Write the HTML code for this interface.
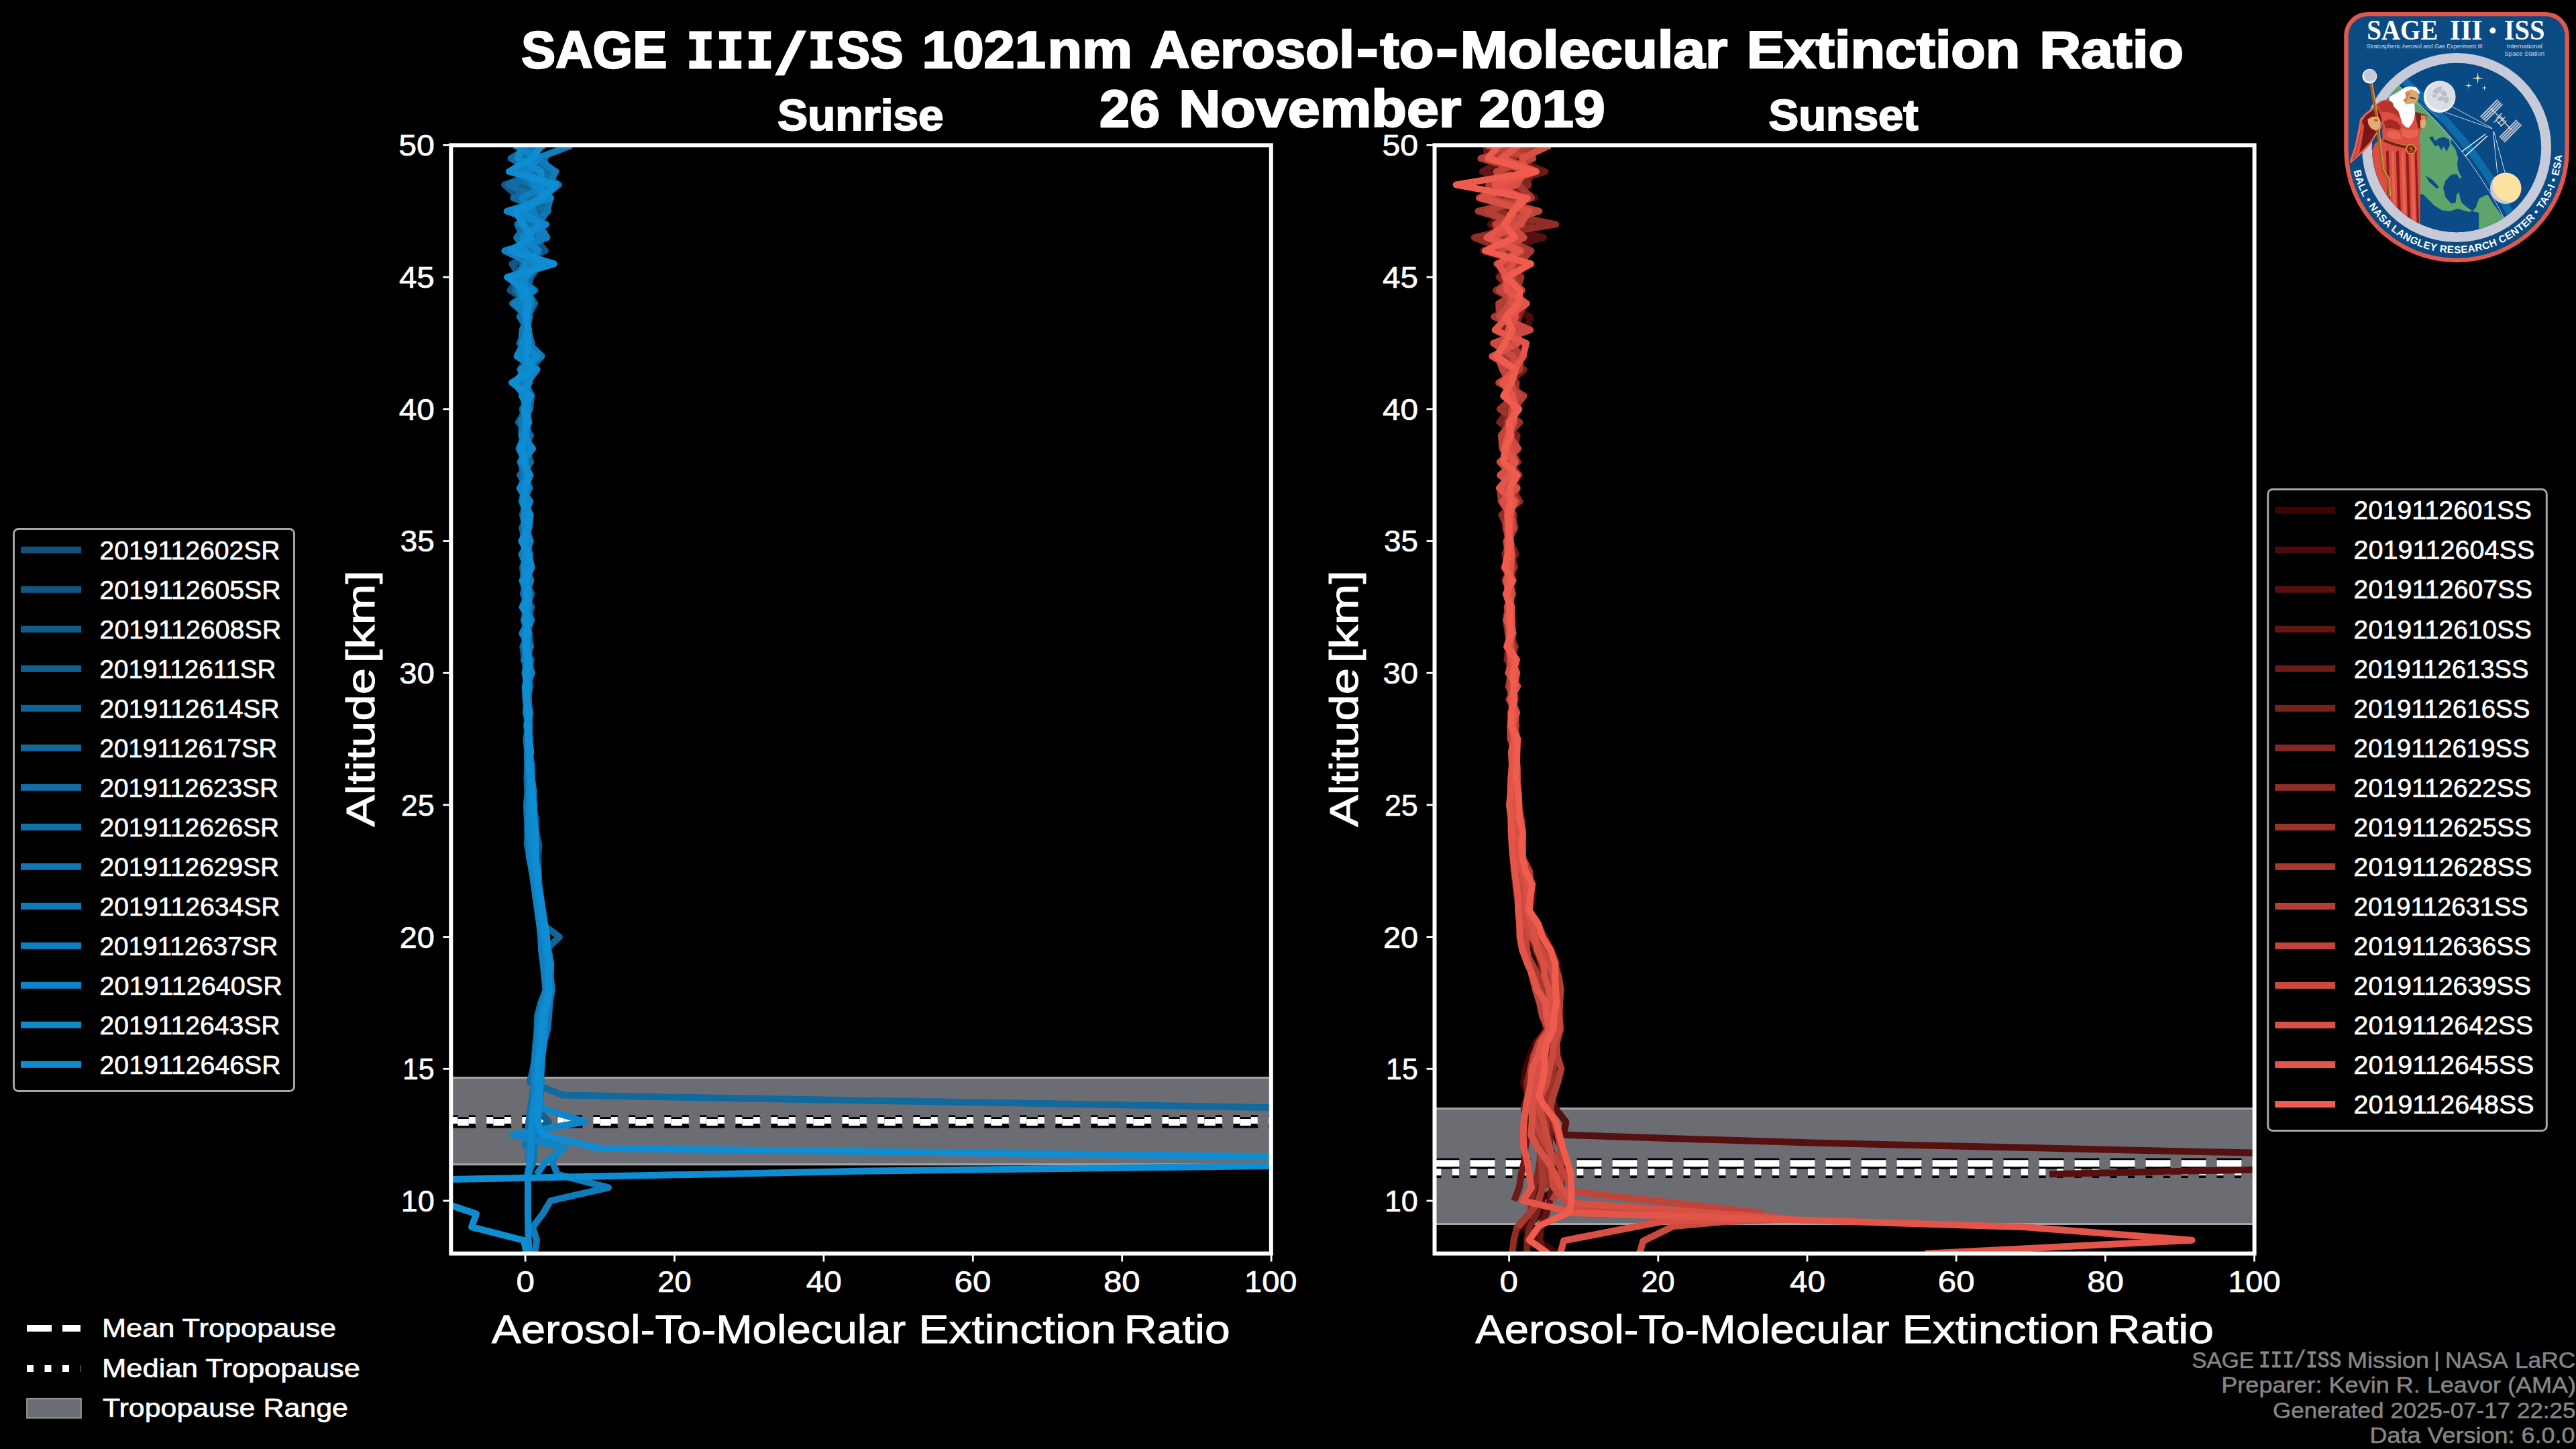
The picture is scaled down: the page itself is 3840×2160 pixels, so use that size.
<!DOCTYPE html>
<html lang="en"><head><meta charset="utf-8"><title>SAGE III/ISS 1021nm Aerosol-to-Molecular Extinction Ratio</title>
<style>
html,body{margin:0;padding:0;background:#000;width:3840px;height:2160px;overflow:hidden}
svg{display:block;font-family:"Liberation Sans", sans-serif}
</style></head><body>
<svg width="3840" height="2160" viewBox="0 0 3840 2160">
<rect width="3840" height="2160" fill="#000"/>
<text x="777.1" y="101.0" font-size="77.0" font-weight="bold" fill="#fff" stroke="#fff" stroke-width="2.4" textLength="217.2" lengthAdjust="spacingAndGlyphs">SAGE</text>
<text x="1023.4" y="100.7" font-size="79.5" font-weight="bold" fill="#fff" font-family="'Liberation Mono', monospace" stroke="#fff" stroke-width="3.0" textLength="41.1" lengthAdjust="spacingAndGlyphs">I</text>
<text x="1068.1" y="100.7" font-size="79.5" font-weight="bold" fill="#fff" font-family="'Liberation Mono', monospace" stroke="#fff" stroke-width="3.0" textLength="41.1" lengthAdjust="spacingAndGlyphs">I</text>
<text x="1112.1" y="100.7" font-size="79.5" font-weight="bold" fill="#fff" font-family="'Liberation Mono', monospace" stroke="#fff" stroke-width="3.0" textLength="41.1" lengthAdjust="spacingAndGlyphs">I</text>
<polygon points="1155,112.5 1169.2,112.5 1202.2,45.4 1188,45.4" fill="#fff"/>
<text x="1204.4" y="100.7" font-size="79.5" font-weight="bold" fill="#fff" font-family="'Liberation Mono', monospace" stroke="#fff" stroke-width="3.0" textLength="40.4" lengthAdjust="spacingAndGlyphs">I</text>
<text x="1247.5" y="101.0" font-size="77.0" font-weight="bold" fill="#fff" stroke="#fff" stroke-width="2.4" textLength="99.1" lengthAdjust="spacingAndGlyphs">SS</text>
<text x="1374.4" y="101.0" font-size="77.0" font-weight="bold" fill="#fff" stroke="#fff" stroke-width="2.4" textLength="184.4" lengthAdjust="spacingAndGlyphs">1021</text>
<text x="1561.4" y="101.0" font-size="77.0" font-weight="bold" fill="#fff" stroke="#fff" stroke-width="2.4" textLength="126.5" lengthAdjust="spacingAndGlyphs">nm</text>
<text x="1714.4" y="101.0" font-size="77.0" font-weight="bold" fill="#fff" stroke="#fff" stroke-width="2.4" textLength="304.7" lengthAdjust="spacingAndGlyphs">Aerosol</text>
<rect x="2024.1" y="72.7" width="28.3" height="12.5" fill="#fff"/>
<text x="2057.5" y="101.0" font-size="77.0" font-weight="bold" fill="#fff" stroke="#fff" stroke-width="2.4" textLength="80.0" lengthAdjust="spacingAndGlyphs">to</text>
<rect x="2142.6" y="72.7" width="28.6" height="12.5" fill="#fff"/>
<text x="2176.8" y="101.0" font-size="77.0" font-weight="bold" fill="#fff" stroke="#fff" stroke-width="2.4" textLength="398.5" lengthAdjust="spacingAndGlyphs">Molecular</text>
<text x="2603.7" y="101.0" font-size="77.0" font-weight="bold" fill="#fff" stroke="#fff" stroke-width="2.4" textLength="407.7" lengthAdjust="spacingAndGlyphs">Extinction</text>
<text x="3040.3" y="101.0" font-size="77.0" font-weight="bold" fill="#fff" stroke="#fff" stroke-width="2.4" textLength="214.7" lengthAdjust="spacingAndGlyphs">Ratio</text>
<text x="1639.0" y="188.7" font-size="77.0" font-weight="bold" fill="#fff" stroke="#fff" stroke-width="2.4" textLength="90.0" lengthAdjust="spacingAndGlyphs">26</text>
<text x="1757.2" y="188.7" font-size="77.0" font-weight="bold" fill="#fff" stroke="#fff" stroke-width="2.4" textLength="421.1" lengthAdjust="spacingAndGlyphs">November</text>
<text x="2204.6" y="188.7" font-size="77.0" font-weight="bold" fill="#fff" stroke="#fff" stroke-width="2.4" textLength="188.2" lengthAdjust="spacingAndGlyphs">2019</text>
<text x="1158.9" y="194.2" font-size="64.8" font-weight="bold" fill="#fff" stroke="#fff" stroke-width="2.0" textLength="247.8" lengthAdjust="spacingAndGlyphs">Sunrise</text>
<text x="2636.5" y="194.2" font-size="64.8" font-weight="bold" fill="#fff" stroke="#fff" stroke-width="2.0" textLength="223.1" lengthAdjust="spacingAndGlyphs">Sunset</text>
<clipPath id="cl"><rect x="672.3" y="216.4" width="1222.5" height="1652.2"/></clipPath>
<g clip-path="url(#cl)">
<rect x="672.3" y="1605.0" width="1222.5" height="132.2" fill="#6b6d73"/>
<rect x="672.3" y="1605.0" width="1222.5" height="3" fill="#a3a3a5"/>
<rect x="672.3" y="1734.2" width="1222.5" height="3" fill="#a3a3a5"/>
<line x1="672.3" x2="1894.8" y1="1673.0" y2="1673.0" stroke="#000" stroke-width="16.3" stroke-dasharray="37 16" transform="translate(0,0.35)"/>
<line x1="672.3" x2="1894.8" y1="1673.0" y2="1673.0" stroke="#fff" stroke-width="10" stroke-dasharray="37 16"/>
<line x1="672.3" x2="1894.8" y1="1670.0" y2="1670.0" stroke="#000" stroke-width="16.6" stroke-dasharray="10 16.5" transform="translate(0,0.5)"/>
<line x1="672.3" x2="1894.8" y1="1670.0" y2="1670.0" stroke="#fff" stroke-width="10" stroke-dasharray="10 16.5"/>
<polyline points="795.8,216.4 762.4,236.1 796.1,255.7 756.4,275.4 789.5,295.1 770.2,314.8 798.9,334.4 771.0,354.1 795.5,373.8 792.9,393.4 775.0,413.1 760.4,432.8 792.4,452.4 787.2,472.1 786.2,491.8 774.1,511.5 789.9,531.1 779.6,550.8 780.2,570.5 793.0,590.1 778.1,609.8 785.4,629.5 787.7,649.1 777.0,668.8 782.6,688.5 783.2,708.2 783.1,727.8 779.2,747.5 786.2,767.2 788.5,786.8 777.5,806.5 790.3,826.2 784.0,845.8 782.9,865.5 792.7,885.2 784.6,904.9 780.4,924.5 787.4,944.2 786.9,963.9 784.4,983.5 788.6,1003.2 785.3,1022.9 787.8,1042.5 788.3,1062.2 784.9,1081.9 787.4,1101.6 786.5,1121.2 788.2,1140.9 788.1,1160.6 790.8,1180.2 792.1,1199.9 793.5,1219.6 792.9,1239.2 790.3,1258.9 792.7,1278.6 795.7,1298.3 797.1,1317.9 800.0,1337.6 801.7,1357.3 804.2,1376.9 805.6,1396.6 807.6,1416.3 810.8,1435.9 813.3,1455.6 816.0,1475.3 809.3,1495.0 803.6,1514.6 801.1,1534.3 798.5,1554.0 796.8,1573.6 795.4,1593.3 796.6,1613.0 795.3,1632.6 796.6,1652.3 794.4,1672.0 792.5,1691.7" fill="none" stroke="#12527c" stroke-width="10" stroke-opacity="1.0" stroke-linejoin="round" stroke-linecap="butt"/>
<polyline points="794.1,216.4 764.1,236.1 810.9,255.7 752.0,275.4 774.7,295.1 800.9,314.8 777.5,334.4 795.2,354.1 812.8,373.8 763.4,393.4 775.6,413.1 788.3,432.8 788.6,452.4 781.8,472.1 784.6,491.8 792.7,511.5 788.8,531.1 775.3,550.8 787.0,570.5 784.7,590.1 779.3,609.8 787.4,629.5 778.1,649.1 789.7,668.8 780.1,688.5 782.3,708.2 780.4,727.8 784.3,747.5 778.7,767.2 784.1,786.8 787.8,806.5 777.6,826.2 791.3,845.8 778.1,865.5 790.7,885.2 781.4,904.9 789.1,924.5 784.5,944.2 780.5,963.9 791.8,983.5 788.8,1003.2 784.9,1022.9 786.7,1042.5 787.5,1062.2 786.5,1081.9 789.8,1101.6 787.3,1121.2 789.7,1140.9 790.4,1160.6 792.8,1180.2 794.2,1199.9 798.8,1219.6 798.8,1239.2 803.4,1258.9 802.1,1278.6 802.6,1298.3 803.5,1317.9 806.1,1337.6 808.0,1357.3 809.6,1376.9 812.0,1396.6 814.4,1416.3 818.6,1435.9 821.0,1455.6 820.2,1475.3 817.2,1495.0 814.3,1514.6 811.6,1534.3 806.9,1554.0 806.2,1573.6 803.3,1593.3 801.3,1613.0 801.6,1632.6 798.5,1652.3 798.0,1672.0" fill="none" stroke="#125783" stroke-width="10" stroke-opacity="1.0" stroke-linejoin="round" stroke-linecap="butt"/>
<polyline points="772.8,216.4 778.4,236.1 829.1,255.7 768.0,275.4 804.8,295.1 786.5,314.8 782.3,334.4 782.8,354.1 795.2,373.8 783.3,393.4 777.5,413.1 784.1,432.8 797.4,452.4 786.1,472.1 785.6,491.8 780.6,511.5 777.5,531.1 798.1,550.8 787.5,570.5 780.5,590.1 787.0,609.8 786.1,629.5 785.3,649.1 785.0,668.8 776.7,688.5 790.7,708.2 774.7,727.8 788.9,747.5 784.4,767.2 786.4,786.8 789.5,806.5 786.7,826.2 778.9,845.8 781.5,865.5 790.8,885.2 780.8,904.9 786.9,924.5 787.9,944.2 779.2,963.9 782.0,983.5 790.2,1003.2 786.3,1022.9 786.3,1042.5 787.5,1062.2 786.5,1081.9 787.0,1101.6 789.7,1121.2 789.5,1140.9 790.9,1160.6 794.5,1180.2 793.9,1199.9 794.7,1219.6 793.0,1239.2 793.9,1258.9 794.7,1278.6 797.5,1298.3 800.3,1317.9 802.4,1337.6 805.3,1357.3 807.3,1376.9 810.4,1396.6 810.6,1416.3 815.5,1435.9 815.9,1455.6 817.5,1475.3 812.3,1495.0 808.5,1514.6 807.0,1534.3 804.9,1554.0 804.5,1573.6 803.9,1593.3 805.9,1613.0 803.8,1632.6 800.6,1652.3 799.8,1672.0 795.3,1691.7 792.5,1711.3 792.9,1731.0" fill="none" stroke="#125b89" stroke-width="10" stroke-opacity="1.0" stroke-linejoin="round" stroke-linecap="butt"/>
<polyline points="807.5,216.4 782.3,236.1 791.4,255.7 793.5,275.4 796.5,295.1 802.1,314.8 790.9,334.4 785.9,354.1 767.3,373.8 808.0,393.4 768.6,413.1 797.7,432.8 763.6,452.4 789.5,472.1 785.7,491.8 776.2,511.5 807.3,531.1 790.0,550.8 772.4,570.5 790.2,590.1 784.2,609.8 772.9,629.5 791.0,649.1 781.4,668.8 782.3,688.5 777.0,708.2 784.2,727.8 783.5,747.5 787.9,767.2 783.7,786.8 784.2,806.5 789.9,826.2 780.7,845.8 784.8,865.5 780.0,885.2 792.5,904.9 785.9,924.5 786.7,944.2 786.0,963.9 785.2,983.5 786.8,1003.2 785.7,1022.9 786.8,1042.5 787.8,1062.2 789.7,1081.9 788.1,1101.6 788.2,1121.2 788.2,1140.9 788.8,1160.6 791.5,1180.2 790.4,1199.9 791.5,1219.6 792.0,1239.2 792.2,1258.9 794.7,1278.6 797.2,1298.3 799.0,1317.9 801.7,1337.6 803.7,1357.3 805.8,1376.9 806.2,1396.6 808.9,1416.3 810.5,1435.9 814.2,1455.6 816.0,1475.3 814.2,1495.0 812.0,1514.6 809.0,1534.3 807.4,1554.0 805.4,1573.6 802.5,1593.3 800.6,1613.0 800.1,1632.6 798.6,1652.3 818.0,1672.0 791.5,1691.7 788.7,1711.3" fill="none" stroke="#116090" stroke-width="10" stroke-opacity="1.0" stroke-linejoin="round" stroke-linecap="butt"/>
<polyline points="766.1,216.4 812.5,236.1 810.8,255.7 783.6,275.4 802.7,295.1 816.4,314.8 771.2,334.4 780.0,354.1 768.6,373.8 803.3,393.4 791.5,413.1 785.3,432.8 768.1,452.4 782.1,472.1 784.8,491.8 790.7,511.5 784.2,531.1 787.8,550.8 784.8,570.5 781.5,590.1 784.7,609.8 784.7,629.5 782.2,649.1 785.2,668.8 790.4,688.5 780.7,708.2 782.1,727.8 777.6,747.5 787.7,767.2 777.9,786.8 783.3,806.5 790.0,826.2 786.0,845.8 783.5,865.5 780.0,885.2 786.9,904.9 783.8,924.5 788.3,944.2 791.1,963.9 783.1,983.5 783.7,1003.2 784.8,1022.9 788.1,1042.5 787.0,1062.2 786.0,1081.9 788.5,1101.6 787.0,1121.2 791.0,1140.9 791.1,1160.6 792.6,1180.2 792.0,1199.9 793.8,1219.6 792.7,1239.2 793.0,1258.9 794.3,1278.6 795.9,1298.3 798.4,1317.9 801.1,1337.6 802.0,1357.3 807.4,1376.9 833.9,1396.6 813.2,1416.3 816.2,1435.9 818.6,1455.6 819.6,1475.3 815.3,1495.0 811.7,1514.6 807.7,1534.3 805.0,1554.0 803.7,1573.6 803.1,1593.3 801.5,1613.0 797.8,1632.6 799.7,1652.3 796.1,1672.0 795.6,1691.7 793.0,1711.3 792.3,1731.0 786.5,1750.7" fill="none" stroke="#116497" stroke-width="10" stroke-opacity="1.0" stroke-linejoin="round" stroke-linecap="butt"/>
<polyline points="792.8,216.4 761.5,236.1 800.6,255.7 822.7,275.4 765.2,295.1 816.8,314.8 785.7,334.4 770.1,354.1 783.4,373.8 789.4,393.4 779.3,413.1 777.9,432.8 777.9,452.4 786.2,472.1 779.8,491.8 780.4,511.5 792.7,531.1 792.4,550.8 765.5,570.5 788.8,590.1 781.3,609.8 780.5,629.5 789.9,649.1 777.4,668.8 791.1,688.5 775.1,708.2 786.3,727.8 782.2,747.5 782.4,767.2 787.5,786.8 783.3,806.5 787.1,826.2 783.9,845.8 781.7,865.5 786.8,885.2 785.7,904.9 788.2,924.5 781.1,944.2 786.6,963.9 780.7,983.5 790.8,1003.2 782.7,1022.9 783.5,1042.5 787.5,1062.2 787.9,1081.9 784.2,1101.6 786.5,1121.2 786.5,1140.9 785.4,1160.6 786.5,1180.2 784.8,1199.9 785.7,1219.6 787.0,1239.2 785.7,1258.9 790.0,1278.6 792.5,1298.3 796.3,1317.9 798.4,1337.6 802.5,1357.3 804.4,1376.9 808.5,1396.6 810.7,1416.3 812.5,1435.9 812.7,1455.6 814.3,1475.3 806.1,1495.0 800.8,1514.6 800.5,1534.3 799.1,1554.0 798.2,1573.6 794.5,1593.3 789.9,1613.0 839.0,1632.6 1966.0,1652.3" fill="none" stroke="#11699d" stroke-width="10" stroke-opacity="1.0" stroke-linejoin="round" stroke-linecap="butt"/>
<polyline points="811.9,216.4 767.9,236.1 822.1,255.7 758.1,275.4 799.7,295.1 767.5,314.8 785.3,334.4 812.5,354.1 784.9,373.8 780.4,393.4 771.1,413.1 768.3,432.8 790.5,452.4 786.7,472.1 784.9,491.8 786.0,511.5 777.7,531.1 789.2,550.8 783.1,570.5 792.0,590.1 789.8,609.8 778.5,629.5 779.6,649.1 784.0,668.8 778.6,688.5 780.3,708.2 784.4,727.8 780.1,747.5 787.4,767.2 783.2,786.8 785.8,806.5 783.9,826.2 783.0,845.8 783.3,865.5 786.1,885.2 783.9,904.9 786.9,924.5 785.0,944.2 781.3,963.9 788.1,983.5 782.2,1003.2 786.5,1022.9 786.6,1042.5 783.7,1062.2 788.4,1081.9 787.2,1101.6 786.8,1121.2 786.8,1140.9 787.3,1160.6 787.6,1180.2 789.4,1199.9 789.9,1219.6 791.6,1239.2 791.9,1258.9 796.1,1278.6 798.5,1298.3 800.8,1317.9 803.2,1337.6 805.4,1357.3 805.6,1376.9 808.1,1396.6 808.7,1416.3 810.7,1435.9 812.9,1455.6 814.7,1475.3 810.2,1495.0 805.7,1514.6 803.1,1534.3 801.2,1554.0 798.0,1573.6 798.1,1593.3 796.5,1613.0 793.6,1632.6 791.2,1652.3 788.1,1672.0 789.3,1691.7 787.1,1711.3 788.0,1731.0" fill="none" stroke="#116da4" stroke-width="10" stroke-opacity="1.0" stroke-linejoin="round" stroke-linecap="butt"/>
<polyline points="807.3,216.4 773.0,236.1 800.7,255.7 832.9,275.4 807.8,295.1 774.9,314.8 785.8,334.4 771.1,354.1 782.2,373.8 804.1,393.4 779.3,413.1 782.2,432.8 794.9,452.4 774.7,472.1 787.4,491.8 792.3,511.5 789.3,531.1 791.4,550.8 781.9,570.5 781.2,590.1 786.6,609.8 778.0,629.5 777.3,649.1 789.7,668.8 779.8,688.5 784.0,708.2 775.4,727.8 785.4,747.5 783.0,767.2 782.8,786.8 778.8,806.5 787.5,826.2 788.5,845.8 785.0,865.5 782.7,885.2 786.2,904.9 787.7,924.5 778.5,944.2 789.1,963.9 787.6,983.5 787.5,1003.2 789.7,1022.9 787.0,1042.5 786.4,1062.2 787.3,1081.9 788.0,1101.6 786.3,1121.2 787.4,1140.9 787.7,1160.6 788.2,1180.2 785.7,1199.9 786.6,1219.6 786.4,1239.2 787.7,1258.9 788.9,1278.6 793.4,1298.3 795.6,1317.9 799.1,1337.6 801.8,1357.3 805.0,1376.9 807.1,1396.6 807.4,1416.3 810.2,1435.9 812.7,1455.6 814.3,1475.3 809.4,1495.0 806.7,1514.6 803.5,1534.3 801.7,1554.0 798.5,1573.6 797.7,1593.3 794.9,1613.0 794.4,1632.6 790.5,1652.3 788.6,1672.0 785.9,1691.7 782.8,1711.3" fill="none" stroke="#1072ab" stroke-width="10" stroke-opacity="1.0" stroke-linejoin="round" stroke-linecap="butt"/>
<polyline points="781.3,216.4 805.6,236.1 771.2,255.7 792.5,275.4 820.1,295.1 815.7,314.8 801.8,334.4 773.9,354.1 785.7,373.8 813.8,393.4 769.0,413.1 773.8,432.8 791.1,452.4 788.6,472.1 778.7,491.8 776.9,511.5 781.8,531.1 796.1,550.8 773.3,570.5 785.6,590.1 785.5,609.8 786.1,629.5 779.8,649.1 785.9,668.8 775.5,688.5 782.8,708.2 779.6,727.8 789.4,747.5 782.5,767.2 782.3,786.8 784.8,806.5 784.8,826.2 787.7,845.8 778.8,865.5 784.5,885.2 785.8,904.9 792.3,924.5 784.4,944.2 783.6,963.9 788.1,983.5 791.4,1003.2 783.8,1022.9 786.9,1042.5 790.2,1062.2 788.1,1081.9 789.4,1101.6 788.7,1121.2 792.7,1140.9 792.7,1160.6 793.8,1180.2 796.4,1199.9 795.6,1219.6 799.3,1239.2 797.8,1258.9 798.1,1278.6 799.2,1298.3 800.7,1317.9 803.4,1337.6 807.7,1357.3 810.5,1376.9 814.4,1396.6 817.5,1416.3 821.4,1435.9 820.7,1455.6 822.8,1475.3 819.4,1495.0 818.1,1514.6 816.2,1534.3 810.8,1554.0 806.9,1573.6 805.8,1593.3 805.3,1613.0 805.8,1632.6 804.9,1652.3 801.5,1672.0 801.5,1691.7 796.5,1711.3 795.1,1731.0 787.8,1750.7" fill="none" stroke="#1076b2" stroke-width="10" stroke-opacity="1.0" stroke-linejoin="round" stroke-linecap="butt"/>
<polyline points="768.4,216.4 801.3,236.1 827.5,255.7 819.9,275.4 801.1,295.1 790.2,314.8 773.3,334.4 811.2,354.1 772.4,373.8 791.9,393.4 775.1,413.1 785.5,432.8 778.8,452.4 786.4,472.1 778.8,491.8 787.7,511.5 807.3,531.1 775.9,550.8 781.3,570.5 788.1,590.1 786.2,609.8 776.6,629.5 784.9,649.1 787.7,668.8 780.6,688.5 782.3,708.2 789.3,727.8 778.5,747.5 785.4,767.2 782.8,786.8 790.5,806.5 777.6,826.2 786.0,845.8 784.5,865.5 788.4,885.2 786.2,904.9 788.7,924.5 778.5,944.2 789.9,963.9 783.8,983.5 784.8,1003.2 788.8,1022.9 784.6,1042.5 784.7,1062.2 788.5,1081.9 786.9,1101.6 789.6,1121.2 791.8,1140.9 792.8,1160.6 795.6,1180.2 794.6,1199.9 794.4,1219.6 795.7,1239.2 796.0,1258.9 796.7,1278.6 799.5,1298.3 800.4,1317.9 802.3,1337.6 805.7,1357.3 807.5,1376.9 810.9,1396.6 814.1,1416.3 817.9,1435.9 818.5,1455.6 819.6,1475.3 814.7,1495.0 810.2,1514.6 808.3,1534.3 806.1,1554.0 807.0,1573.6 805.9,1593.3 806.8,1613.0 804.3,1632.6 805.5,1652.3 800.9,1672.0 809.0,1691.7 837.0,1711.3 823.0,1731.0 831.0,1750.7 907.0,1770.3 820.7,1790.0 809.0,1809.7 794.0,1829.3 800.0,1849.0 797.0,1868.7" fill="none" stroke="#107bb8" stroke-width="10" stroke-opacity="1.0" stroke-linejoin="round" stroke-linecap="butt"/>
<polyline points="852.0,216.4 800.9,236.1 778.9,255.7 815.6,275.4 778.0,295.1 794.7,314.8 803.6,334.4 815.3,354.1 752.4,373.8 793.1,393.4 771.7,413.1 795.3,432.8 766.7,452.4 786.1,472.1 786.7,491.8 779.0,511.5 783.1,531.1 785.3,550.8 766.4,570.5 781.9,590.1 785.6,609.8 785.4,629.5 781.8,649.1 773.6,668.8 783.9,688.5 787.3,708.2 783.8,727.8 782.4,747.5 781.8,767.2 787.8,786.8 781.8,806.5 782.0,826.2 784.3,845.8 791.3,865.5 783.7,885.2 788.7,904.9 782.0,924.5 788.9,944.2 782.1,963.9 786.3,983.5 793.0,1003.2 785.0,1022.9 784.4,1042.5 786.8,1062.2 787.4,1081.9 788.6,1101.6 786.6,1121.2 786.8,1140.9 789.1,1160.6 789.5,1180.2 790.2,1199.9 791.9,1219.6 790.4,1239.2 790.5,1258.9 789.6,1278.6 793.7,1298.3 796.9,1317.9 798.6,1337.6 801.2,1357.3 804.1,1376.9 807.2,1396.6 807.0,1416.3 809.7,1435.9 811.4,1455.6 813.6,1475.3 807.8,1495.0 803.8,1514.6 801.7,1534.3 800.6,1554.0 798.2,1573.6 795.9,1593.3 796.6,1613.0 796.6,1632.6 794.9,1652.3 795.1,1672.0 792.9,1691.7 788.0,1711.3 787.8,1731.0" fill="none" stroke="#107fbf" stroke-width="10" stroke-opacity="1.0" stroke-linejoin="round" stroke-linecap="butt"/>
<polyline points="770.3,216.4 801.8,236.1 787.2,255.7 796.3,275.4 821.2,295.1 755.7,314.8 814.2,334.4 778.9,354.1 802.8,373.8 784.8,393.4 770.2,413.1 789.3,432.8 791.0,452.4 782.5,472.1 788.3,491.8 780.5,511.5 770.6,531.1 800.6,550.8 785.3,570.5 783.0,590.1 784.2,609.8 788.5,629.5 778.2,649.1 779.9,668.8 782.5,688.5 788.5,708.2 774.8,727.8 790.3,747.5 780.7,767.2 782.1,786.8 790.7,806.5 782.5,826.2 780.9,845.8 786.1,865.5 789.0,885.2 787.7,904.9 782.1,924.5 787.2,944.2 786.8,963.9 782.8,983.5 788.3,1003.2 786.0,1022.9 785.7,1042.5 786.7,1062.2 787.6,1081.9 787.6,1101.6 787.5,1121.2 788.6,1140.9 790.1,1160.6 788.8,1180.2 789.0,1199.9 788.3,1219.6 787.4,1239.2 790.1,1258.9 790.7,1278.6 796.5,1298.3 798.8,1317.9 802.3,1337.6 804.1,1357.3 805.5,1376.9 809.5,1396.6 813.3,1416.3 816.0,1435.9 816.9,1455.6 817.3,1475.3 812.7,1495.0 807.7,1514.6 805.4,1534.3 805.5,1554.0 802.1,1573.6 803.0,1593.3 799.0,1613.0 797.6,1632.6 809.0,1652.3 872.0,1672.0 763.7,1691.7 841.7,1711.3 813.7,1731.0 800.0,1750.7" fill="none" stroke="#0f84c6" stroke-width="10" stroke-opacity="1.0" stroke-linejoin="round" stroke-linecap="butt"/>
<polyline points="780.4,216.4 771.4,236.1 806.5,255.7 807.2,275.4 808.7,295.1 778.9,314.8 805.4,334.4 779.8,354.1 781.7,373.8 801.8,393.4 784.9,413.1 774.3,432.8 783.4,452.4 785.0,472.1 786.3,491.8 779.1,511.5 800.6,531.1 778.2,550.8 789.0,570.5 777.9,590.1 787.7,609.8 784.7,629.5 780.0,649.1 794.0,668.8 778.2,688.5 790.0,708.2 783.4,727.8 779.6,747.5 784.1,767.2 786.4,786.8 784.3,806.5 785.0,826.2 784.0,845.8 779.7,865.5 787.6,885.2 778.6,904.9 790.0,924.5 782.5,944.2 784.3,963.9 786.2,983.5 787.5,1003.2 782.9,1022.9 785.2,1042.5 787.3,1062.2 786.0,1081.9 788.6,1101.6 791.3,1121.2 788.1,1140.9 791.2,1160.6 788.9,1180.2 790.9,1199.9 789.9,1219.6 791.4,1239.2 794.4,1258.9 797.8,1278.6 799.1,1298.3 801.2,1317.9 803.1,1337.6 805.9,1357.3 807.8,1376.9 811.6,1396.6 814.1,1416.3 818.6,1435.9 817.5,1455.6 819.6,1475.3 816.4,1495.0 812.3,1514.6 811.4,1534.3 811.0,1554.0 808.4,1573.6 807.0,1593.3 805.7,1613.0 799.6,1632.6 794.5,1652.3 792.9,1672.0 791.8,1691.7 792.1,1711.3 790.3,1731.0 786.5,1750.7 787.0,1770.3 786.9,1790.0 786.9,1809.7 787.3,1829.3 787.8,1849.0 788.4,1868.7" fill="none" stroke="#0f88cc" stroke-width="10" stroke-opacity="1.0" stroke-linejoin="round" stroke-linecap="butt"/>
<polyline points="807.8,216.4 792.4,236.1 758.8,255.7 829.0,275.4 807.8,295.1 768.1,314.8 780.0,334.4 791.8,354.1 761.9,373.8 825.9,393.4 756.2,413.1 784.1,432.8 787.4,452.4 784.6,472.1 787.1,491.8 787.9,511.5 784.2,531.1 795.0,550.8 763.1,570.5 790.6,590.1 781.0,609.8 786.0,629.5 783.9,649.1 777.0,668.8 780.7,688.5 787.7,708.2 782.9,727.8 780.6,747.5 790.6,767.2 788.5,786.8 777.4,806.5 788.3,826.2 792.4,845.8 783.6,865.5 784.8,885.2 784.3,904.9 784.0,924.5 785.5,944.2 784.0,963.9 788.9,983.5 784.0,1003.2 786.0,1022.9 784.9,1042.5 788.2,1062.2 786.6,1081.9 788.6,1101.6 790.0,1121.2 789.7,1140.9 791.5,1160.6 793.1,1180.2 794.7,1199.9 796.1,1219.6 797.0,1239.2 799.2,1258.9 798.0,1278.6 801.7,1298.3 802.5,1317.9 805.9,1337.6 809.0,1357.3 812.0,1376.9 815.1,1396.6 816.2,1416.3 819.3,1435.9 817.9,1455.6 818.3,1475.3 815.4,1495.0 809.6,1514.6 808.6,1534.3 806.3,1554.0 803.6,1573.6 801.3,1593.3 803.0,1613.0 804.9,1632.6 802.0,1652.3 800.5,1672.0 809.0,1691.8 893.0,1711.6 2443.0,1731.0 1280.0,1745.8 95.0,1769.8 650.0,1789.5 710.0,1809.4 703.0,1829.2 781.0,1849.0 785.0,1868.6" fill="none" stroke="#0f8dd3" stroke-width="10" stroke-opacity="1.0" stroke-linejoin="round" stroke-linecap="butt"/>
</g>
<rect x="672.3" y="216.4" width="1222.5" height="1652.2" fill="none" stroke="#fff" stroke-width="6"/>
<rect x="660.3" y="1788.6" width="10" height="2.8" fill="#fff"/>
<text x="597.7" y="1805.9" font-size="44.8" font-weight="normal" fill="#fff" stroke="#fff" stroke-width="0.7" textLength="49.9" lengthAdjust="spacingAndGlyphs">10</text>
<rect x="660.3" y="1591.9" width="10" height="2.8" fill="#fff"/>
<text x="599.9" y="1609.2" font-size="44.8" font-weight="normal" fill="#fff" stroke="#fff" stroke-width="0.7" textLength="47.7" lengthAdjust="spacingAndGlyphs">15</text>
<rect x="660.3" y="1395.2" width="10" height="2.8" fill="#fff"/>
<text x="595.8" y="1412.5" font-size="44.8" font-weight="normal" fill="#fff" stroke="#fff" stroke-width="0.7" textLength="52.0" lengthAdjust="spacingAndGlyphs">20</text>
<rect x="660.3" y="1198.5" width="10" height="2.8" fill="#fff"/>
<text x="597.7" y="1215.8" font-size="44.8" font-weight="normal" fill="#fff" stroke="#fff" stroke-width="0.7" textLength="49.9" lengthAdjust="spacingAndGlyphs">25</text>
<rect x="660.3" y="1001.8" width="10" height="2.8" fill="#fff"/>
<text x="595.2" y="1019.1" font-size="44.8" font-weight="normal" fill="#fff" stroke="#fff" stroke-width="0.7" textLength="52.5" lengthAdjust="spacingAndGlyphs">30</text>
<rect x="660.3" y="805.1" width="10" height="2.8" fill="#fff"/>
<text x="596.8" y="822.4" font-size="44.8" font-weight="normal" fill="#fff" stroke="#fff" stroke-width="0.7" textLength="50.9" lengthAdjust="spacingAndGlyphs">35</text>
<rect x="660.3" y="608.4" width="10" height="2.8" fill="#fff"/>
<text x="594.8" y="625.7" font-size="44.8" font-weight="normal" fill="#fff" stroke="#fff" stroke-width="0.7" textLength="53.0" lengthAdjust="spacingAndGlyphs">40</text>
<rect x="660.3" y="411.7" width="10" height="2.8" fill="#fff"/>
<text x="594.9" y="429.0" font-size="44.8" font-weight="normal" fill="#fff" stroke="#fff" stroke-width="0.7" textLength="52.9" lengthAdjust="spacingAndGlyphs">45</text>
<rect x="660.3" y="215.0" width="10" height="2.8" fill="#fff"/>
<text x="594.2" y="232.3" font-size="44.8" font-weight="normal" fill="#fff" stroke="#fff" stroke-width="0.7" textLength="53.6" lengthAdjust="spacingAndGlyphs">50</text>
<rect x="781.7" y="1870.6" width="2.8" height="10" fill="#fff"/>
<text x="769.4" y="1926.4" font-size="44.8" font-weight="normal" fill="#fff" stroke="#fff" stroke-width="0.7" textLength="27.4" lengthAdjust="spacingAndGlyphs">0</text>
<rect x="1004.1" y="1870.6" width="2.8" height="10" fill="#fff"/>
<text x="980.3" y="1926.4" font-size="44.8" font-weight="normal" fill="#fff" stroke="#fff" stroke-width="0.7" textLength="50.2" lengthAdjust="spacingAndGlyphs">20</text>
<rect x="1226.5" y="1870.6" width="2.8" height="10" fill="#fff"/>
<text x="1201.8" y="1926.4" font-size="44.8" font-weight="normal" fill="#fff" stroke="#fff" stroke-width="0.7" textLength="53.0" lengthAdjust="spacingAndGlyphs">40</text>
<rect x="1448.9" y="1870.6" width="2.8" height="10" fill="#fff"/>
<text x="1422.6" y="1926.4" font-size="44.8" font-weight="normal" fill="#fff" stroke="#fff" stroke-width="0.7" textLength="54.8" lengthAdjust="spacingAndGlyphs">60</text>
<rect x="1671.3" y="1870.6" width="2.8" height="10" fill="#fff"/>
<text x="1645.0" y="1926.4" font-size="44.8" font-weight="normal" fill="#fff" stroke="#fff" stroke-width="0.7" textLength="54.7" lengthAdjust="spacingAndGlyphs">80</text>
<rect x="1893.7" y="1870.6" width="2.8" height="10" fill="#fff"/>
<text x="1855.0" y="1926.4" font-size="44.8" font-weight="normal" fill="#fff" stroke="#fff" stroke-width="0.7" textLength="78.5" lengthAdjust="spacingAndGlyphs">100</text>
<text x="733.1" y="2001.8" font-size="60" font-weight="normal" fill="#fff" stroke="#fff" stroke-width="0.9" textLength="617.3" lengthAdjust="spacingAndGlyphs">Aerosol-To-Molecular</text>
<text x="1369.3" y="2001.8" font-size="60" font-weight="normal" fill="#fff" stroke="#fff" stroke-width="0.9" textLength="294.5" lengthAdjust="spacingAndGlyphs">Extinction</text>
<text x="1675.4" y="2001.8" font-size="60" font-weight="normal" fill="#fff" stroke="#fff" stroke-width="0.9" textLength="158.5" lengthAdjust="spacingAndGlyphs">Ratio</text>
<text transform="translate(558.0,1233.0) rotate(-90)" x="0.5" y="0" font-size="60" font-weight="normal" fill="#fff" stroke="#fff" stroke-width="0.9" textLength="236.6" lengthAdjust="spacingAndGlyphs">Altitude</text>
<text transform="translate(558.0,1233.0) rotate(-90)" x="244.6" y="0" font-size="60" font-weight="normal" fill="#fff" stroke="#fff" stroke-width="0.9" textLength="138.3" lengthAdjust="spacingAndGlyphs">[km]</text>
<clipPath id="cr"><rect x="2138.5" y="216.4" width="1222.1" height="1652.2"/></clipPath>
<g clip-path="url(#cr)">
<rect x="2138.5" y="1651.0" width="1222.1" height="175.0" fill="#6b6d73"/>
<rect x="2138.5" y="1651.0" width="1222.1" height="3" fill="#a3a3a5"/>
<rect x="2138.5" y="1823.0" width="1222.1" height="3" fill="#a3a3a5"/>
<line x1="2138.5" x2="3360.6" y1="1734.3" y2="1734.3" stroke="#000" stroke-width="16.3" stroke-dasharray="37 16" transform="translate(0,0.35)"/>
<line x1="2138.5" x2="3360.6" y1="1734.3" y2="1734.3" stroke="#fff" stroke-width="10" stroke-dasharray="37 16"/>
<line x1="2138.5" x2="3360.6" y1="1747.2" y2="1747.2" stroke="#000" stroke-width="16.6" stroke-dasharray="10 16.5" transform="translate(0,0.5)"/>
<line x1="2138.5" x2="3360.6" y1="1747.2" y2="1747.2" stroke="#fff" stroke-width="10" stroke-dasharray="10 16.5"/>
<polyline points="2252.2,216.4 2282.6,236.1 2272.5,255.7 2236.1,275.4 2252.8,295.1 2262.6,314.8 2230.7,334.4 2218.1,354.1 2264.8,373.8 2241.1,393.4 2233.5,413.1 2255.8,432.8 2255.8,452.4 2243.1,472.1 2243.9,491.8 2262.3,511.5 2260.9,531.1 2244.2,550.8 2246.6,570.5 2258.6,590.1 2257.5,609.8 2246.6,629.5 2254.4,649.1 2254.2,668.8 2245.1,688.5 2244.5,708.2 2255.6,727.8 2255.7,747.5 2253.7,767.2 2242.5,786.8 2250.0,806.5 2247.1,826.2 2244.9,845.8 2252.6,865.5 2250.7,885.2 2247.6,904.9 2255.4,924.5 2251.6,944.2 2252.5,963.9 2253.7,983.5 2258.2,1003.2 2248.3,1022.9 2257.7,1042.5 2255.5,1062.2 2250.5,1081.9 2257.3,1101.6 2253.3,1121.2 2254.8,1140.9 2252.5,1160.6 2254.9,1180.2 2256.7,1199.9 2257.8,1219.6 2261.9,1239.2 2261.2,1258.9 2262.2,1278.6 2263.7,1298.3 2267.8,1317.9 2266.0,1337.6 2265.7,1357.3 2267.4,1376.9 2269.2,1396.6 2272.8,1416.3 2276.2,1435.9 2288.6,1455.6 2293.6,1475.3 2300.4,1495.0 2302.0,1514.6 2308.0,1534.3 2289.2,1554.0 2281.0,1573.6 2274.2,1593.3 2270.8,1613.0 2276.8,1632.6 2290.2,1652.3 2306.1,1672.0 2317.8,1691.7 2327.4,1711.3 2329.3,1731.0 2326.0,1750.7 2327.7,1770.4 2297.9,1785.8 2297.9,1809.6 2269.7,1829.3 2291.2,1849.0 2322.7,1868.6" fill="none" stroke="#3d0505" stroke-width="10" stroke-opacity="1.0" stroke-linejoin="round" stroke-linecap="butt"/>
<polyline points="2253.7,216.4 2259.1,236.1 2224.1,255.7 2257.2,275.4 2288.6,295.1 2229.2,314.8 2227.4,334.4 2296.6,354.1 2244.1,373.8 2279.9,393.4 2239.6,413.1 2248.2,432.8 2239.9,452.4 2280.8,472.1 2277.3,491.8 2227.8,511.5 2247.6,531.1 2259.5,550.8 2242.7,570.5 2253.1,590.1 2250.4,609.8 2253.9,629.5 2256.1,649.1 2246.5,668.8 2255.2,688.5 2243.3,708.2 2253.7,727.8 2237.8,747.5 2247.2,767.2 2255.5,786.8 2246.9,806.5 2255.4,826.2 2250.5,845.8 2252.7,865.5 2250.0,885.2 2251.7,904.9 2249.0,924.5 2249.4,944.2 2250.6,963.9 2252.9,983.5 2251.1,1003.2 2255.0,1022.9 2255.5,1042.5 2256.6,1062.2 2255.7,1081.9 2253.7,1101.6 2259.4,1121.2 2258.2,1140.9 2259.1,1160.6 2258.8,1180.2 2259.1,1199.9 2262.4,1219.6 2267.4,1239.2 2264.9,1258.9 2265.5,1278.6 2268.2,1298.3 2266.1,1317.9 2267.6,1337.6 2267.9,1357.3 2271.8,1376.9 2278.7,1396.6 2287.4,1416.3 2297.4,1435.9 2303.6,1455.6 2311.4,1475.3 2314.2,1495.0 2317.3,1514.6 2317.6,1534.3 2308.7,1554.0 2303.5,1573.6 2299.5,1593.3 2297.8,1613.0 2297.6,1632.6 2298.0,1652.3 2305.2,1672.0 2309.1,1691.7 2310.0,1711.3 2306.8,1731.0 2302.6,1750.7 2296.4,1770.3 2291.0,1790.0 2281.7,1809.7 2268.1,1829.3" fill="none" stroke="#490b0a" stroke-width="10" stroke-opacity="1.0" stroke-linejoin="round" stroke-linecap="butt"/>
<polyline points="2240.9,216.4 2255.2,236.1 2303.8,255.7 2236.2,275.4 2225.7,295.1 2259.0,314.8 2221.8,334.4 2301.2,354.1 2210.3,373.8 2271.2,393.4 2252.7,413.1 2233.5,432.8 2270.7,452.4 2265.8,472.1 2254.2,491.8 2253.3,511.5 2260.1,531.1 2247.7,550.8 2253.5,570.5 2249.2,590.1 2259.1,609.8 2242.3,629.5 2257.6,649.1 2244.2,668.8 2244.4,688.5 2256.1,708.2 2262.1,727.8 2256.0,747.5 2244.3,767.2 2253.3,786.8 2247.5,806.5 2250.8,826.2 2250.1,845.8 2242.9,865.5 2252.8,885.2 2247.3,904.9 2250.2,924.5 2248.0,944.2 2249.4,963.9 2252.7,983.5 2260.5,1003.2 2259.3,1022.9 2252.9,1042.5 2258.8,1062.2 2255.1,1081.9 2253.9,1101.6 2260.3,1121.2 2259.5,1140.9 2259.1,1160.6 2261.7,1180.2 2262.5,1199.9 2262.8,1219.6 2264.2,1239.2 2265.9,1258.9 2266.3,1278.6 2274.4,1298.3 2284.0,1317.9 2284.5,1337.6 2280.1,1357.3 2291.5,1376.9 2303.3,1396.6 2312.8,1416.3 2320.9,1435.9 2322.3,1455.6 2324.2,1475.3 2321.6,1495.0 2316.7,1514.6 2315.0,1534.3 2305.8,1554.0 2305.8,1573.6 2309.2,1593.3 2311.5,1613.0 2311.8,1632.6 2319.4,1653.3 2334.3,1672.3 2331.0,1691.7 2520.0,1698.0 2700.0,1703.5 3357.0,1718.6 3600.0,1724.2" fill="none" stroke="#55100f" stroke-width="10" stroke-opacity="1.0" stroke-linejoin="round" stroke-linecap="butt"/>
<polyline points="3055.0,1750.3 3357.0,1743.7 3600.0,1738.4" fill="none" stroke="#55100f" stroke-width="10" stroke-opacity="1.0" stroke-linejoin="round" stroke-linecap="butt"/>
<polyline points="2287.9,216.4 2243.2,236.1 2210.0,255.7 2260.1,275.4 2268.5,295.1 2257.1,314.8 2257.9,334.4 2244.2,354.1 2253.5,373.8 2247.1,393.4 2262.6,413.1 2248.8,432.8 2259.6,452.4 2260.1,472.1 2238.8,491.8 2250.8,511.5 2272.8,531.1 2246.6,550.8 2248.0,570.5 2256.1,590.1 2246.3,609.8 2255.0,629.5 2245.9,649.1 2253.2,668.8 2239.0,688.5 2264.8,708.2 2238.9,727.8 2244.9,747.5 2251.7,767.2 2248.6,786.8 2251.1,806.5 2242.9,826.2 2253.1,845.8 2256.3,865.5 2244.3,885.2 2252.6,904.9 2249.4,924.5 2252.3,944.2 2245.8,963.9 2252.5,983.5 2259.4,1003.2 2254.1,1022.9 2259.4,1042.5 2252.0,1062.2 2257.7,1081.9 2262.1,1101.6 2254.8,1121.2 2259.4,1140.9 2261.5,1160.6 2261.1,1180.2 2261.7,1199.9 2261.7,1219.6 2263.2,1239.2 2266.7,1258.9 2270.2,1278.6 2278.1,1298.3 2282.4,1317.9 2282.9,1337.6 2278.3,1357.3 2287.5,1376.9 2295.9,1396.6 2309.3,1416.3 2315.6,1435.9 2317.2,1455.6 2313.1,1475.3 2310.0,1495.0 2309.6,1514.6 2314.2,1534.3 2305.9,1554.0 2308.6,1573.6 2316.2,1593.3 2314.0,1613.0 2308.7,1632.6 2302.0,1652.3 2304.8,1672.0 2308.8,1691.7 2310.9,1711.3 2318.9,1731.0 2316.4,1750.7 2314.4,1770.3 2310.2,1790.0 2305.1,1809.7 2296.7,1829.3 2295.4,1849.0 2301.5,1868.7" fill="none" stroke="#611613" stroke-width="10" stroke-opacity="1.0" stroke-linejoin="round" stroke-linecap="butt"/>
<polyline points="2214.9,216.4 2218.1,236.1 2302.0,255.7 2245.9,275.4 2276.7,295.1 2233.2,314.8 2269.1,334.4 2204.8,354.1 2265.6,373.8 2243.9,393.4 2255.4,413.1 2257.4,432.8 2251.8,452.4 2259.9,472.1 2252.5,491.8 2262.1,511.5 2251.8,531.1 2243.1,550.8 2249.1,570.5 2270.0,590.1 2243.2,609.8 2258.7,629.5 2249.9,649.1 2245.1,668.8 2246.7,688.5 2253.1,708.2 2250.7,727.8 2258.9,747.5 2241.5,767.2 2249.8,786.8 2250.7,806.5 2260.0,826.2 2241.6,845.8 2254.4,865.5 2247.8,885.2 2251.9,904.9 2248.8,924.5 2253.1,944.2 2256.2,963.9 2251.8,983.5 2256.0,1003.2 2255.1,1022.9 2251.7,1042.5 2256.7,1062.2 2253.8,1081.9 2253.6,1101.6 2255.9,1121.2 2254.6,1140.9 2255.0,1160.6 2252.5,1180.2 2251.5,1199.9 2253.8,1219.6 2252.3,1239.2 2254.6,1258.9 2255.8,1278.6 2256.7,1298.3 2258.9,1317.9 2261.1,1337.6 2265.6,1357.3 2269.3,1376.9 2277.8,1396.6 2291.2,1416.3 2297.3,1435.9 2301.5,1455.6 2297.3,1475.3 2298.8,1495.0 2301.0,1514.6 2305.4,1534.3 2291.9,1554.0 2288.1,1573.6 2283.1,1593.3 2275.0,1613.0 2276.9,1632.6 2271.8,1652.3 2275.4,1672.0 2277.0,1691.7 2273.6,1711.3 2272.3,1731.0 2267.6,1750.7 2264.7,1770.3 2257.2,1790.0" fill="none" stroke="#6c1c18" stroke-width="10" stroke-opacity="1.0" stroke-linejoin="round" stroke-linecap="butt"/>
<polyline points="2269.6,216.4 2274.4,236.1 2283.0,255.7 2275.6,275.4 2227.0,295.1 2235.3,314.8 2282.9,334.4 2230.4,354.1 2244.2,373.8 2271.2,393.4 2261.3,413.1 2247.1,432.8 2252.1,452.4 2263.5,472.1 2228.7,491.8 2264.0,511.5 2237.8,531.1 2272.0,550.8 2247.8,570.5 2249.9,590.1 2250.0,609.8 2235.3,629.5 2261.6,649.1 2257.2,668.8 2240.0,688.5 2257.1,708.2 2252.3,727.8 2240.4,747.5 2257.2,767.2 2253.0,786.8 2248.6,806.5 2249.1,826.2 2252.5,845.8 2243.8,865.5 2251.7,885.2 2252.7,904.9 2246.0,924.5 2256.0,944.2 2248.9,963.9 2246.4,983.5 2258.9,1003.2 2251.6,1022.9 2257.0,1042.5 2252.6,1062.2 2260.6,1081.9 2255.4,1101.6 2260.3,1121.2 2258.2,1140.9 2259.9,1160.6 2262.0,1180.2 2260.7,1199.9 2262.2,1219.6 2262.5,1239.2 2264.7,1258.9 2263.3,1278.6 2266.9,1298.3 2272.8,1317.9 2272.2,1337.6 2273.6,1357.3 2280.0,1376.9 2287.7,1396.6 2292.6,1416.3 2296.6,1435.9 2302.4,1455.6 2304.7,1475.3 2308.0,1495.0 2311.4,1514.6 2313.0,1534.3 2304.4,1554.0 2303.9,1573.6 2307.0,1593.3 2312.0,1613.0 2310.6,1632.6 2312.0,1652.3 2310.5,1672.0 2310.4,1691.7 2303.8,1711.3 2302.1,1731.0 2298.6,1750.7 2298.4,1770.3 2295.0,1790.0 2290.1,1809.7 2280.1,1829.3 2276.3,1849.0 2276.3,1868.7" fill="none" stroke="#78221d" stroke-width="10" stroke-opacity="1.0" stroke-linejoin="round" stroke-linecap="butt"/>
<polyline points="2231.1,216.4 2251.7,236.1 2244.5,255.7 2278.7,275.4 2256.3,295.1 2255.0,314.8 2282.1,334.4 2197.7,354.1 2248.2,373.8 2259.6,393.4 2235.2,413.1 2255.7,432.8 2274.2,452.4 2262.6,472.1 2260.9,491.8 2247.0,511.5 2247.6,531.1 2262.0,550.8 2244.4,570.5 2256.5,590.1 2263.5,609.8 2243.9,629.5 2248.1,649.1 2251.4,668.8 2253.3,688.5 2250.9,708.2 2248.3,727.8 2258.9,747.5 2240.1,767.2 2249.4,786.8 2251.9,806.5 2244.1,826.2 2246.5,845.8 2248.0,865.5 2248.9,885.2 2250.9,904.9 2248.2,924.5 2253.4,944.2 2256.8,963.9 2249.7,983.5 2260.7,1003.2 2253.5,1022.9 2251.0,1042.5 2255.5,1062.2 2253.3,1081.9 2258.0,1101.6 2252.7,1121.2 2258.4,1140.9 2255.3,1160.6 2253.3,1180.2 2258.4,1199.9 2259.9,1219.6 2259.2,1239.2 2263.4,1258.9 2261.0,1278.6 2267.3,1298.3 2267.1,1317.9 2270.4,1337.6 2269.2,1357.3 2276.7,1376.9 2291.5,1396.6 2303.6,1416.3 2308.1,1435.9 2312.6,1455.6 2309.6,1475.3 2308.3,1495.0 2308.6,1514.6 2311.2,1534.3 2294.5,1554.0 2288.8,1573.6 2281.3,1593.3 2277.2,1613.0 2282.4,1632.6 2284.2,1652.3 2288.6,1672.0 2298.5,1691.7 2296.7,1711.3 2295.5,1731.0 2292.2,1750.7 2286.9,1770.3 2281.8,1790.0 2282.8,1809.7" fill="none" stroke="#842722" stroke-width="10" stroke-opacity="1.0" stroke-linejoin="round" stroke-linecap="butt"/>
<polyline points="2305.2,216.4 2221.7,236.1 2273.0,255.7 2221.4,275.4 2262.5,295.1 2220.8,314.8 2319.1,334.4 2199.2,354.1 2252.5,373.8 2251.7,393.4 2262.8,413.1 2229.9,432.8 2265.9,452.4 2252.7,472.1 2262.2,491.8 2255.4,511.5 2242.0,531.1 2255.2,550.8 2247.7,570.5 2257.7,590.1 2249.3,609.8 2246.9,629.5 2252.2,649.1 2251.9,668.8 2262.5,688.5 2238.0,708.2 2253.8,727.8 2265.3,747.5 2238.4,767.2 2246.9,786.8 2249.0,806.5 2253.0,826.2 2257.6,845.8 2247.1,865.5 2252.0,885.2 2248.1,904.9 2244.7,924.5 2248.1,944.2 2258.7,963.9 2252.2,983.5 2249.0,1003.2 2260.9,1022.9 2249.3,1042.5 2260.4,1062.2 2258.2,1081.9 2253.2,1101.6 2254.7,1121.2 2257.9,1140.9 2254.3,1160.6 2258.7,1180.2 2256.8,1199.9 2261.9,1219.6 2261.4,1239.2 2261.5,1258.9 2261.7,1278.6 2266.5,1298.3 2266.7,1317.9 2268.4,1337.6 2266.9,1357.3 2268.0,1376.9 2266.7,1396.6 2275.1,1416.3 2281.4,1435.9 2293.1,1455.6 2305.0,1475.3 2310.4,1495.0 2310.2,1514.6 2312.2,1534.3 2301.3,1554.0 2294.2,1573.6 2293.2,1593.3 2295.0,1613.0 2292.5,1632.6 2290.7,1652.3 2292.7,1672.0 2293.2,1691.7 2294.9,1711.3 2297.0,1731.0 2297.4,1750.7 2299.3,1770.3 2293.1,1790.0 2279.8,1809.7 2261.4,1829.3 2256.4,1849.0 2254.1,1868.7" fill="none" stroke="#902d27" stroke-width="10" stroke-opacity="1.0" stroke-linejoin="round" stroke-linecap="butt"/>
<polyline points="2273.3,216.4 2255.8,236.1 2237.1,255.7 2248.3,275.4 2246.5,295.1 2277.7,314.8 2228.4,334.4 2239.9,354.1 2282.3,373.8 2231.0,393.4 2267.5,413.1 2260.9,432.8 2245.5,452.4 2238.3,472.1 2268.5,491.8 2258.3,511.5 2257.9,531.1 2246.8,550.8 2260.5,570.5 2258.9,590.1 2235.8,609.8 2265.3,629.5 2247.4,649.1 2245.7,668.8 2249.4,688.5 2264.2,708.2 2249.4,727.8 2237.8,747.5 2253.7,767.2 2248.9,786.8 2249.7,806.5 2247.6,826.2 2245.3,845.8 2254.3,865.5 2246.3,885.2 2250.4,904.9 2249.6,924.5 2250.0,944.2 2255.3,963.9 2253.4,983.5 2251.2,1003.2 2253.1,1022.9 2255.6,1042.5 2259.7,1062.2 2257.1,1081.9 2259.2,1101.6 2258.5,1121.2 2258.9,1140.9 2259.1,1160.6 2256.9,1180.2 2262.3,1199.9 2260.9,1219.6 2264.8,1239.2 2267.1,1258.9 2265.6,1278.6 2271.2,1298.3 2274.4,1317.9 2272.5,1337.6 2274.0,1357.3 2279.3,1376.9 2283.0,1396.6 2293.4,1416.3 2298.4,1435.9 2308.2,1455.6 2316.7,1475.3 2320.7,1495.0 2324.8,1514.6 2323.8,1534.3 2316.9,1554.0 2315.8,1573.6 2316.1,1593.3 2312.3,1613.0 2307.5,1632.6 2305.1,1652.3 2305.5,1672.0 2305.4,1691.7 2307.9,1711.3 2303.1,1731.0 2304.0,1750.7 2308.5,1770.3" fill="none" stroke="#9c332b" stroke-width="10" stroke-opacity="1.0" stroke-linejoin="round" stroke-linecap="butt"/>
<polyline points="2298.5,216.4 2239.1,236.1 2238.4,255.7 2263.2,275.4 2283.1,295.1 2203.5,314.8 2269.8,334.4 2215.3,354.1 2282.3,373.8 2264.0,393.4 2250.0,413.1 2246.8,432.8 2266.6,452.4 2227.2,472.1 2270.4,491.8 2235.4,511.5 2242.5,531.1 2250.3,550.8 2251.5,570.5 2258.5,590.1 2256.4,609.8 2250.6,629.5 2244.4,649.1 2256.4,668.8 2246.8,688.5 2258.5,708.2 2236.0,727.8 2237.8,747.5 2253.4,767.2 2258.3,786.8 2248.1,806.5 2247.6,826.2 2253.1,845.8 2249.8,865.5 2250.1,885.2 2248.3,904.9 2251.6,924.5 2251.7,944.2 2249.5,963.9 2250.4,983.5 2257.9,1003.2 2257.8,1022.9 2255.0,1042.5 2255.5,1062.2 2256.1,1081.9 2259.9,1101.6 2253.0,1121.2 2256.1,1140.9 2256.9,1160.6 2255.8,1180.2 2258.8,1199.9 2261.9,1219.6 2263.7,1239.2 2262.1,1258.9 2262.7,1278.6 2265.8,1298.3 2267.2,1317.9 2269.3,1337.6 2266.6,1357.3 2266.3,1376.9 2270.6,1396.6 2272.9,1416.3 2283.3,1435.9 2293.9,1455.6 2299.5,1475.3 2307.2,1495.0 2304.5,1514.6 2309.4,1534.3 2294.3,1554.0 2285.9,1573.6 2281.4,1593.3 2282.7,1613.0 2285.8,1632.6 2286.9,1652.3 2292.5,1672.0 2293.0,1691.7 2296.8,1711.3 2298.1,1731.0 2299.8,1750.7 2299.2,1770.3 2293.4,1790.0 2279.2,1809.7 2262.8,1829.3" fill="none" stroke="#a83930" stroke-width="10" stroke-opacity="1.0" stroke-linejoin="round" stroke-linecap="butt"/>
<polyline points="2278.1,216.4 2207.4,236.1 2277.3,255.7 2219.1,275.4 2274.4,295.1 2218.5,314.8 2252.5,334.4 2255.8,354.1 2269.3,373.8 2251.9,393.4 2249.7,413.1 2269.1,432.8 2234.1,452.4 2235.0,472.1 2262.1,491.8 2252.2,511.5 2266.8,531.1 2265.3,550.8 2234.2,570.5 2271.8,590.1 2255.7,609.8 2251.7,629.5 2250.2,649.1 2262.9,668.8 2242.6,688.5 2246.0,708.2 2252.4,727.8 2244.1,747.5 2254.6,767.2 2248.3,786.8 2251.3,806.5 2251.4,826.2 2245.2,845.8 2255.1,865.5 2245.6,885.2 2253.7,904.9 2245.3,924.5 2254.7,944.2 2248.7,963.9 2255.1,983.5 2252.1,1003.2 2249.1,1022.9 2255.7,1042.5 2258.4,1062.2 2259.2,1081.9 2255.5,1101.6 2257.9,1121.2 2261.7,1140.9 2262.4,1160.6 2262.0,1180.2 2262.8,1199.9 2267.6,1219.6 2269.9,1239.2 2270.3,1258.9 2269.7,1278.6 2279.9,1298.3 2281.6,1317.9 2275.4,1337.6 2275.5,1357.3 2279.5,1376.9 2289.5,1396.6 2305.1,1416.3 2316.5,1435.9 2323.5,1455.6 2326.6,1475.3 2325.2,1495.0 2324.5,1514.6 2326.3,1534.3 2320.7,1554.0 2321.3,1573.6 2327.3,1593.3 2322.2,1613.0 2315.8,1632.6 2310.7,1652.3 2317.0,1672.0 2322.4,1691.7 2326.1,1711.3 2327.2,1731.0 2326.6,1750.7 2325.3,1770.3 2313.8,1790.0" fill="none" stroke="#b43e35" stroke-width="10" stroke-opacity="1.0" stroke-linejoin="round" stroke-linecap="butt"/>
<polyline points="2216.3,216.4 2285.3,236.1 2230.7,255.7 2239.4,275.4 2220.2,295.1 2294.3,314.8 2230.6,334.4 2253.1,354.1 2262.3,373.8 2243.9,393.4 2255.5,413.1 2234.8,432.8 2268.7,452.4 2248.8,472.1 2263.1,491.8 2252.2,511.5 2232.8,531.1 2239.7,550.8 2250.8,570.5 2263.0,590.1 2253.1,609.8 2252.7,629.5 2237.9,649.1 2239.6,668.8 2254.1,688.5 2249.5,708.2 2245.3,727.8 2260.3,747.5 2247.4,767.2 2245.3,786.8 2249.1,806.5 2253.6,826.2 2249.6,845.8 2249.3,865.5 2254.9,885.2 2246.6,904.9 2251.4,924.5 2248.2,944.2 2252.3,963.9 2256.0,983.5 2256.2,1003.2 2252.9,1022.9 2255.6,1042.5 2254.7,1062.2 2251.5,1081.9 2251.4,1101.6 2259.9,1121.2 2254.8,1140.9 2254.3,1160.6 2253.4,1180.2 2255.5,1199.9 2259.4,1219.6 2256.1,1239.2 2260.5,1258.9 2261.7,1278.6 2265.0,1298.3 2270.7,1317.9 2270.1,1337.6 2272.5,1357.3 2270.8,1376.9 2273.6,1396.6 2276.2,1416.3 2279.2,1435.9 2283.8,1455.6 2288.9,1475.3 2295.0,1495.0 2299.1,1514.6 2307.9,1534.3 2294.6,1554.0 2288.3,1573.6 2285.1,1593.3 2286.7,1613.0 2287.7,1632.6 2286.8,1652.3 2287.7,1672.0 2297.5,1691.7 2307.3,1711.3 2320.8,1731.0 2332.9,1750.7 2345.0,1776.4 2628.9,1808.1" fill="none" stroke="#c0443a" stroke-width="10" stroke-opacity="1.0" stroke-linejoin="round" stroke-linecap="butt"/>
<polyline points="2263.5,216.4 2241.2,236.1 2276.6,255.7 2244.2,275.4 2205.0,295.1 2279.3,314.8 2248.8,334.4 2271.7,354.1 2236.2,373.8 2253.3,393.4 2252.2,413.1 2252.6,432.8 2250.6,452.4 2235.5,472.1 2281.3,491.8 2226.3,511.5 2255.7,531.1 2258.6,550.8 2251.9,570.5 2255.2,590.1 2257.1,609.8 2257.6,629.5 2248.6,649.1 2262.9,668.8 2235.7,688.5 2254.9,708.2 2244.9,727.8 2252.3,747.5 2251.7,767.2 2254.7,786.8 2245.5,806.5 2248.0,826.2 2253.5,845.8 2250.1,865.5 2253.6,885.2 2250.3,904.9 2249.9,924.5 2250.0,944.2 2253.0,963.9 2252.3,983.5 2249.4,1003.2 2257.7,1022.9 2255.0,1042.5 2255.9,1062.2 2256.5,1081.9 2261.9,1101.6 2258.3,1121.2 2259.5,1140.9 2257.1,1160.6 2257.5,1180.2 2259.0,1199.9 2261.4,1219.6 2263.3,1239.2 2265.2,1258.9 2266.5,1278.6 2269.8,1298.3 2270.2,1317.9 2269.1,1337.6 2268.7,1357.3 2274.5,1376.9 2282.4,1396.6 2296.8,1416.3 2309.5,1435.9 2315.7,1455.6 2319.0,1475.3 2321.0,1495.0 2323.1,1514.6 2323.9,1534.3 2316.7,1554.0 2314.2,1573.6 2309.9,1593.3 2306.0,1613.0 2297.5,1632.6 2295.3,1652.3 2300.6,1672.0 2305.0,1691.7 2310.7,1711.3 2312.4,1731.0 2313.3,1750.7 2316.3,1770.3 2340.0,1797.0 2500.0,1810.0 2650.0,1818.0 2571.0,1821.3 2494.2,1827.9 2449.4,1850.0 2444.0,1868.7" fill="none" stroke="#cb4a3f" stroke-width="10" stroke-opacity="1.0" stroke-linejoin="round" stroke-linecap="butt"/>
<polyline points="2310.5,216.4 2269.1,236.1 2273.7,255.7 2260.3,275.4 2209.8,295.1 2279.3,314.8 2266.3,334.4 2224.5,354.1 2259.9,373.8 2255.3,393.4 2242.8,413.1 2255.3,432.8 2253.8,452.4 2259.7,472.1 2248.2,491.8 2262.0,511.5 2224.3,531.1 2257.2,550.8 2239.5,570.5 2255.0,590.1 2259.7,609.8 2249.6,629.5 2249.8,649.1 2250.3,668.8 2259.1,688.5 2236.1,708.2 2261.5,727.8 2240.0,747.5 2250.4,767.2 2251.1,786.8 2247.1,806.5 2253.9,826.2 2251.8,845.8 2245.0,865.5 2250.8,885.2 2249.3,904.9 2246.0,924.5 2253.6,944.2 2249.6,963.9 2259.9,983.5 2248.3,1003.2 2262.2,1022.9 2251.2,1042.5 2261.1,1062.2 2255.5,1081.9 2256.9,1101.6 2257.1,1121.2 2256.0,1140.9 2255.7,1160.6 2256.0,1180.2 2254.3,1199.9 2256.1,1219.6 2256.8,1239.2 2261.6,1258.9 2263.5,1278.6 2269.4,1298.3 2276.2,1317.9 2276.5,1337.6 2276.1,1357.3 2282.6,1376.9 2288.7,1396.6 2291.3,1416.3 2300.7,1435.9 2302.7,1455.6 2309.4,1475.3 2311.5,1495.0 2312.9,1514.6 2313.4,1534.3 2301.8,1554.0 2296.8,1573.6 2292.3,1593.3 2293.4,1613.0 2287.0,1632.6 2284.4,1652.3 2284.0,1672.0 2282.1,1691.7 2292.1,1711.3 2306.8,1731.0 2318.2,1750.7 2327.4,1770.3 2345.0,1793.6 2520.0,1806.0 2665.0,1816.4 2571.0,1818.8 2479.7,1820.5 2331.0,1849.5 2326.0,1868.7" fill="none" stroke="#d75043" stroke-width="10" stroke-opacity="1.0" stroke-linejoin="round" stroke-linecap="butt"/>
<polyline points="2264.1,216.4 2237.7,236.1 2290.0,255.7 2228.5,275.4 2267.6,295.1 2257.5,314.8 2244.9,334.4 2216.7,354.1 2266.4,373.8 2233.1,393.4 2246.2,413.1 2246.2,432.8 2275.7,452.4 2247.8,472.1 2228.7,491.8 2275.0,511.5 2270.6,531.1 2258.0,550.8 2240.1,570.5 2255.0,590.1 2256.9,609.8 2255.8,629.5 2248.1,649.1 2242.9,668.8 2257.6,688.5 2251.3,708.2 2234.8,727.8 2257.4,747.5 2251.2,767.2 2249.0,786.8 2251.7,806.5 2253.3,826.2 2250.1,845.8 2248.4,865.5 2246.5,885.2 2253.4,904.9 2253.6,924.5 2255.0,944.2 2248.6,963.9 2253.3,983.5 2261.2,1003.2 2257.1,1022.9 2253.6,1042.5 2256.7,1062.2 2253.5,1081.9 2257.8,1101.6 2253.0,1121.2 2254.0,1140.9 2252.3,1160.6 2251.7,1180.2 2250.0,1199.9 2252.3,1219.6 2252.8,1239.2 2253.7,1258.9 2255.5,1278.6 2257.8,1298.3 2260.3,1317.9 2262.7,1337.6 2263.2,1357.3 2265.1,1376.9 2265.6,1396.6 2269.3,1416.3 2276.7,1435.9 2285.3,1455.6 2292.1,1475.3 2304.3,1495.0 2305.0,1514.6 2310.2,1534.3 2297.9,1554.0 2292.8,1573.6 2283.6,1593.3 2282.1,1613.0 2278.0,1632.6 2274.5,1652.3 2271.5,1672.0 2270.6,1691.7 2271.5,1711.3 2276.7,1731.0 2279.5,1750.7 2282.9,1770.3 2270.0,1790.0 2348.0,1808.0 3020.0,1829.3 3267.6,1848.7 2870.0,1868.7" fill="none" stroke="#e35548" stroke-width="10" stroke-opacity="1.0" stroke-linejoin="round" stroke-linecap="butt"/>
<polyline points="2234.2,216.4 2217.9,236.1 2288.7,255.7 2170.7,275.4 2276.8,295.1 2254.9,314.8 2243.0,334.4 2258.3,354.1 2213.9,373.8 2282.2,393.4 2245.8,413.1 2265.8,432.8 2263.6,452.4 2244.8,472.1 2254.4,491.8 2243.3,511.5 2230.9,531.1 2259.2,550.8 2253.1,570.5 2241.3,590.1 2264.4,609.8 2249.4,629.5 2252.7,649.1 2243.6,668.8 2241.0,688.5 2261.4,708.2 2250.9,727.8 2251.9,747.5 2247.3,767.2 2249.3,786.8 2250.0,806.5 2247.5,826.2 2243.3,845.8 2254.9,865.5 2245.1,885.2 2251.2,904.9 2250.3,924.5 2252.5,944.2 2246.3,963.9 2260.9,983.5 2255.1,1003.2 2256.5,1022.9 2257.5,1042.5 2252.6,1062.2 2252.2,1081.9 2262.1,1101.6 2261.4,1121.2 2261.0,1140.9 2260.3,1160.6 2263.3,1180.2 2264.5,1199.9 2264.7,1219.6 2269.5,1239.2 2268.3,1258.9 2269.7,1278.6 2274.2,1298.3 2284.1,1317.9 2281.2,1337.6 2279.7,1357.3 2292.8,1376.9 2299.6,1396.6 2311.5,1416.3 2318.4,1435.9 2318.1,1455.6 2319.1,1475.3 2320.0,1495.0 2316.5,1514.6 2315.6,1534.3 2306.1,1554.0 2302.6,1573.6 2302.5,1593.3 2299.2,1613.0 2294.0,1632.6 2299.5,1645.0 2319.4,1671.5 2329.3,1709.6 2341.7,1749.3 2342.6,1789.9 2339.3,1807.3 2294.5,1827.2 2279.6,1848.7 2307.8,1868.6" fill="none" stroke="#ef5b4d" stroke-width="10" stroke-opacity="1.0" stroke-linejoin="round" stroke-linecap="butt"/>
</g>
<rect x="2138.5" y="216.4" width="1222.1" height="1652.2" fill="none" stroke="#fff" stroke-width="6"/>
<rect x="2126.5" y="1788.6" width="10" height="2.8" fill="#fff"/>
<text x="2063.9" y="1805.9" font-size="44.8" font-weight="normal" fill="#fff" stroke="#fff" stroke-width="0.7" textLength="49.9" lengthAdjust="spacingAndGlyphs">10</text>
<rect x="2126.5" y="1591.9" width="10" height="2.8" fill="#fff"/>
<text x="2066.1" y="1609.2" font-size="44.8" font-weight="normal" fill="#fff" stroke="#fff" stroke-width="0.7" textLength="47.7" lengthAdjust="spacingAndGlyphs">15</text>
<rect x="2126.5" y="1395.2" width="10" height="2.8" fill="#fff"/>
<text x="2062.0" y="1412.5" font-size="44.8" font-weight="normal" fill="#fff" stroke="#fff" stroke-width="0.7" textLength="52.0" lengthAdjust="spacingAndGlyphs">20</text>
<rect x="2126.5" y="1198.5" width="10" height="2.8" fill="#fff"/>
<text x="2063.9" y="1215.8" font-size="44.8" font-weight="normal" fill="#fff" stroke="#fff" stroke-width="0.7" textLength="49.9" lengthAdjust="spacingAndGlyphs">25</text>
<rect x="2126.5" y="1001.8" width="10" height="2.8" fill="#fff"/>
<text x="2061.4" y="1019.1" font-size="44.8" font-weight="normal" fill="#fff" stroke="#fff" stroke-width="0.7" textLength="52.5" lengthAdjust="spacingAndGlyphs">30</text>
<rect x="2126.5" y="805.1" width="10" height="2.8" fill="#fff"/>
<text x="2063.0" y="822.4" font-size="44.8" font-weight="normal" fill="#fff" stroke="#fff" stroke-width="0.7" textLength="50.9" lengthAdjust="spacingAndGlyphs">35</text>
<rect x="2126.5" y="608.4" width="10" height="2.8" fill="#fff"/>
<text x="2061.0" y="625.7" font-size="44.8" font-weight="normal" fill="#fff" stroke="#fff" stroke-width="0.7" textLength="53.0" lengthAdjust="spacingAndGlyphs">40</text>
<rect x="2126.5" y="411.7" width="10" height="2.8" fill="#fff"/>
<text x="2061.1" y="429.0" font-size="44.8" font-weight="normal" fill="#fff" stroke="#fff" stroke-width="0.7" textLength="52.9" lengthAdjust="spacingAndGlyphs">45</text>
<rect x="2126.5" y="215.0" width="10" height="2.8" fill="#fff"/>
<text x="2060.4" y="232.3" font-size="44.8" font-weight="normal" fill="#fff" stroke="#fff" stroke-width="0.7" textLength="53.6" lengthAdjust="spacingAndGlyphs">50</text>
<rect x="2248.2" y="1870.6" width="2.8" height="10" fill="#fff"/>
<text x="2235.6" y="1926.4" font-size="44.8" font-weight="normal" fill="#fff" stroke="#fff" stroke-width="0.7" textLength="27.4" lengthAdjust="spacingAndGlyphs">0</text>
<rect x="2470.4" y="1870.6" width="2.8" height="10" fill="#fff"/>
<text x="2446.5" y="1926.4" font-size="44.8" font-weight="normal" fill="#fff" stroke="#fff" stroke-width="0.7" textLength="50.2" lengthAdjust="spacingAndGlyphs">20</text>
<rect x="2692.6" y="1870.6" width="2.8" height="10" fill="#fff"/>
<text x="2668.0" y="1926.4" font-size="44.8" font-weight="normal" fill="#fff" stroke="#fff" stroke-width="0.7" textLength="53.0" lengthAdjust="spacingAndGlyphs">40</text>
<rect x="2914.8" y="1870.6" width="2.8" height="10" fill="#fff"/>
<text x="2888.8" y="1926.4" font-size="44.8" font-weight="normal" fill="#fff" stroke="#fff" stroke-width="0.7" textLength="54.8" lengthAdjust="spacingAndGlyphs">60</text>
<rect x="3137.0" y="1870.6" width="2.8" height="10" fill="#fff"/>
<text x="3111.2" y="1926.4" font-size="44.8" font-weight="normal" fill="#fff" stroke="#fff" stroke-width="0.7" textLength="54.7" lengthAdjust="spacingAndGlyphs">80</text>
<rect x="3359.2" y="1870.6" width="2.8" height="10" fill="#fff"/>
<text x="3321.2" y="1926.4" font-size="44.8" font-weight="normal" fill="#fff" stroke="#fff" stroke-width="0.7" textLength="78.5" lengthAdjust="spacingAndGlyphs">100</text>
<text x="2199.2" y="2001.8" font-size="60" font-weight="normal" fill="#fff" stroke="#fff" stroke-width="0.9" textLength="617.3" lengthAdjust="spacingAndGlyphs">Aerosol-To-Molecular</text>
<text x="2835.5" y="2001.8" font-size="60" font-weight="normal" fill="#fff" stroke="#fff" stroke-width="0.9" textLength="294.5" lengthAdjust="spacingAndGlyphs">Extinction</text>
<text x="3141.6" y="2001.8" font-size="60" font-weight="normal" fill="#fff" stroke="#fff" stroke-width="0.9" textLength="158.5" lengthAdjust="spacingAndGlyphs">Ratio</text>
<text transform="translate(2024.2,1233.0) rotate(-90)" x="0.5" y="0" font-size="60" font-weight="normal" fill="#fff" stroke="#fff" stroke-width="0.9" textLength="236.6" lengthAdjust="spacingAndGlyphs">Altitude</text>
<text transform="translate(2024.2,1233.0) rotate(-90)" x="244.6" y="0" font-size="60" font-weight="normal" fill="#fff" stroke="#fff" stroke-width="0.9" textLength="138.3" lengthAdjust="spacingAndGlyphs">[km]</text>
<rect x="20.5" y="788.5" width="418" height="838" rx="7" fill="#000" stroke="#a6a6a6" stroke-width="3"/>
<rect x="3380.8" y="729.5" width="415.5" height="956" rx="7" fill="#000" stroke="#a6a6a6" stroke-width="3"/>
<rect x="31" y="814.8" width="90" height="10" fill="#12527c"/>
<text x="148.5" y="833.5" font-size="38.8" font-weight="normal" fill="#fff" stroke="#fff" stroke-width="0.65" textLength="269.1" lengthAdjust="spacingAndGlyphs">2019112602SR</text>
<rect x="31" y="873.8" width="90" height="10" fill="#125783"/>
<text x="148.5" y="892.5" font-size="38.8" font-weight="normal" fill="#fff" stroke="#fff" stroke-width="0.65" textLength="270.2" lengthAdjust="spacingAndGlyphs">2019112605SR</text>
<rect x="31" y="932.8" width="90" height="10" fill="#125b89"/>
<text x="148.5" y="951.5" font-size="38.8" font-weight="normal" fill="#fff" stroke="#fff" stroke-width="0.65" textLength="270.6" lengthAdjust="spacingAndGlyphs">2019112608SR</text>
<rect x="31" y="991.8" width="90" height="10" fill="#116090"/>
<text x="148.5" y="1010.5" font-size="38.8" font-weight="normal" fill="#fff" stroke="#fff" stroke-width="0.65" textLength="263.0" lengthAdjust="spacingAndGlyphs">2019112611SR</text>
<rect x="31" y="1050.8" width="90" height="10" fill="#116497"/>
<text x="148.5" y="1069.5" font-size="38.8" font-weight="normal" fill="#fff" stroke="#fff" stroke-width="0.65" textLength="268.1" lengthAdjust="spacingAndGlyphs">2019112614SR</text>
<rect x="31" y="1109.8" width="90" height="10" fill="#11699d"/>
<text x="148.5" y="1128.5" font-size="38.8" font-weight="normal" fill="#fff" stroke="#fff" stroke-width="0.65" textLength="264.9" lengthAdjust="spacingAndGlyphs">2019112617SR</text>
<rect x="31" y="1168.8" width="90" height="10" fill="#116da4"/>
<text x="148.5" y="1187.5" font-size="38.8" font-weight="normal" fill="#fff" stroke="#fff" stroke-width="0.65" textLength="266.4" lengthAdjust="spacingAndGlyphs">2019112623SR</text>
<rect x="31" y="1227.8" width="90" height="10" fill="#1072ab"/>
<text x="148.5" y="1246.5" font-size="38.8" font-weight="normal" fill="#fff" stroke="#fff" stroke-width="0.65" textLength="267.7" lengthAdjust="spacingAndGlyphs">2019112626SR</text>
<rect x="31" y="1286.8" width="90" height="10" fill="#1076b2"/>
<text x="148.5" y="1305.5" font-size="38.8" font-weight="normal" fill="#fff" stroke="#fff" stroke-width="0.65" textLength="267.7" lengthAdjust="spacingAndGlyphs">2019112629SR</text>
<rect x="31" y="1345.8" width="90" height="10" fill="#107bb8"/>
<text x="148.5" y="1364.5" font-size="38.8" font-weight="normal" fill="#fff" stroke="#fff" stroke-width="0.65" textLength="269.1" lengthAdjust="spacingAndGlyphs">2019112634SR</text>
<rect x="31" y="1404.8" width="90" height="10" fill="#107fbf"/>
<text x="148.5" y="1423.5" font-size="38.8" font-weight="normal" fill="#fff" stroke="#fff" stroke-width="0.65" textLength="265.9" lengthAdjust="spacingAndGlyphs">2019112637SR</text>
<rect x="31" y="1463.8" width="90" height="10" fill="#0f84c6"/>
<text x="148.5" y="1482.5" font-size="38.8" font-weight="normal" fill="#fff" stroke="#fff" stroke-width="0.65" textLength="272.3" lengthAdjust="spacingAndGlyphs">2019112640SR</text>
<rect x="31" y="1522.8" width="90" height="10" fill="#0f88cc"/>
<text x="148.5" y="1541.5" font-size="38.8" font-weight="normal" fill="#fff" stroke="#fff" stroke-width="0.65" textLength="269.1" lengthAdjust="spacingAndGlyphs">2019112643SR</text>
<rect x="31" y="1581.8" width="90" height="10" fill="#0f8dd3"/>
<text x="148.5" y="1600.5" font-size="38.8" font-weight="normal" fill="#fff" stroke="#fff" stroke-width="0.65" textLength="270.2" lengthAdjust="spacingAndGlyphs">2019112646SR</text>
<rect x="3391.2" y="755.7" width="90" height="10" fill="#3d0505"/>
<text x="3508.6" y="774.4" font-size="38.8" font-weight="normal" fill="#fff" stroke="#fff" stroke-width="0.65" textLength="265.4" lengthAdjust="spacingAndGlyphs">2019112601SS</text>
<rect x="3391.2" y="814.7" width="90" height="10" fill="#490b0a"/>
<text x="3508.6" y="833.4" font-size="38.8" font-weight="normal" fill="#fff" stroke="#fff" stroke-width="0.65" textLength="269.7" lengthAdjust="spacingAndGlyphs">2019112604SS</text>
<rect x="3391.2" y="873.7" width="90" height="10" fill="#55100f"/>
<text x="3508.6" y="892.4" font-size="38.8" font-weight="normal" fill="#fff" stroke="#fff" stroke-width="0.65" textLength="266.4" lengthAdjust="spacingAndGlyphs">2019112607SS</text>
<rect x="3391.2" y="932.8" width="90" height="10" fill="#611613"/>
<text x="3508.6" y="951.5" font-size="38.8" font-weight="normal" fill="#fff" stroke="#fff" stroke-width="0.65" textLength="265.4" lengthAdjust="spacingAndGlyphs">2019112610SS</text>
<rect x="3391.2" y="991.8" width="90" height="10" fill="#6c1c18"/>
<text x="3508.7" y="1010.5" font-size="38.8" font-weight="normal" fill="#fff" stroke="#fff" stroke-width="0.65" textLength="260.9" lengthAdjust="spacingAndGlyphs">2019112613SS</text>
<rect x="3391.2" y="1050.8" width="90" height="10" fill="#78221d"/>
<text x="3508.6" y="1069.5" font-size="38.8" font-weight="normal" fill="#fff" stroke="#fff" stroke-width="0.65" textLength="262.9" lengthAdjust="spacingAndGlyphs">2019112616SS</text>
<rect x="3391.2" y="1109.8" width="90" height="10" fill="#842722"/>
<text x="3508.6" y="1128.5" font-size="38.8" font-weight="normal" fill="#fff" stroke="#fff" stroke-width="0.65" textLength="262.3" lengthAdjust="spacingAndGlyphs">2019112619SS</text>
<rect x="3391.2" y="1168.8" width="90" height="10" fill="#902d27"/>
<text x="3508.6" y="1187.5" font-size="38.8" font-weight="normal" fill="#fff" stroke="#fff" stroke-width="0.65" textLength="265.0" lengthAdjust="spacingAndGlyphs">2019112622SS</text>
<rect x="3391.2" y="1227.9" width="90" height="10" fill="#9c332b"/>
<text x="3508.6" y="1246.6" font-size="38.8" font-weight="normal" fill="#fff" stroke="#fff" stroke-width="0.65" textLength="265.4" lengthAdjust="spacingAndGlyphs">2019112625SS</text>
<rect x="3391.2" y="1286.9" width="90" height="10" fill="#a83930"/>
<text x="3508.6" y="1305.6" font-size="38.8" font-weight="normal" fill="#fff" stroke="#fff" stroke-width="0.65" textLength="265.9" lengthAdjust="spacingAndGlyphs">2019112628SS</text>
<rect x="3391.2" y="1345.9" width="90" height="10" fill="#b43e35"/>
<text x="3508.7" y="1364.6" font-size="38.8" font-weight="normal" fill="#fff" stroke="#fff" stroke-width="0.65" textLength="260.1" lengthAdjust="spacingAndGlyphs">2019112631SS</text>
<rect x="3391.2" y="1404.9" width="90" height="10" fill="#c0443a"/>
<text x="3508.6" y="1423.6" font-size="38.8" font-weight="normal" fill="#fff" stroke="#fff" stroke-width="0.65" textLength="264.4" lengthAdjust="spacingAndGlyphs">2019112636SS</text>
<rect x="3391.2" y="1463.9" width="90" height="10" fill="#cb4a3f"/>
<text x="3508.6" y="1482.6" font-size="38.8" font-weight="normal" fill="#fff" stroke="#fff" stroke-width="0.65" textLength="264.4" lengthAdjust="spacingAndGlyphs">2019112639SS</text>
<rect x="3391.2" y="1523.0" width="90" height="10" fill="#d75043"/>
<text x="3508.6" y="1541.7" font-size="38.8" font-weight="normal" fill="#fff" stroke="#fff" stroke-width="0.65" textLength="267.5" lengthAdjust="spacingAndGlyphs">2019112642SS</text>
<rect x="3391.2" y="1582.0" width="90" height="10" fill="#e35548"/>
<text x="3508.6" y="1600.7" font-size="38.8" font-weight="normal" fill="#fff" stroke="#fff" stroke-width="0.65" textLength="268.6" lengthAdjust="spacingAndGlyphs">2019112645SS</text>
<rect x="3391.2" y="1641.0" width="90" height="10" fill="#ef5b4d"/>
<text x="3508.6" y="1659.7" font-size="38.8" font-weight="normal" fill="#fff" stroke="#fff" stroke-width="0.65" textLength="269.0" lengthAdjust="spacingAndGlyphs">2019112648SS</text>
<line x1="40" x2="120" y1="1980" y2="1980" stroke="#fff" stroke-width="10" stroke-dasharray="37 16"/>
<line x1="40" x2="120" y1="2040" y2="2040" stroke="#fff" stroke-width="10" stroke-dasharray="10 16.5"/>
<rect x="40.2" y="2085" width="80.6" height="28.6" fill="#6b6d75" stroke="#909094" stroke-width="2.2"/>
<text x="152.0" y="1993.3" font-size="39.3" font-weight="normal" fill="#fff" stroke="#fff" stroke-width="0.65" textLength="349.2" lengthAdjust="spacingAndGlyphs">Mean Tropopause</text>
<text x="152.0" y="2053.4" font-size="39.3" font-weight="normal" fill="#fff" stroke="#fff" stroke-width="0.65" textLength="385.0" lengthAdjust="spacingAndGlyphs">Median Tropopause</text>
<text x="152.9" y="2112.2" font-size="39.3" font-weight="normal" fill="#fff" stroke="#fff" stroke-width="0.65" textLength="366.1" lengthAdjust="spacingAndGlyphs">Tropopause Range</text>
<text x="3267.2" y="2038.6" font-size="33.0" font-weight="normal" fill="#868686" stroke="#868686" stroke-width="0.5" textLength="93.0" lengthAdjust="spacingAndGlyphs">SAGE</text>
<text x="3367.0" y="2038.4" font-size="34.6" font-weight="normal" fill="#868686" font-family="'Liberation Mono', monospace" stroke="#868686" stroke-width="1.0" textLength="123.0" lengthAdjust="spacingAndGlyphs">III/ISS</text>
<text x="3498.9" y="2038.6" font-size="33.0" font-weight="normal" fill="#868686" stroke="#868686" stroke-width="0.5" textLength="122.3" lengthAdjust="spacingAndGlyphs">Mission</text>
<rect x="3630.8" y="2014.8" width="3.4" height="29.3" fill="#868686"/>
<text x="3645.1" y="2038.6" font-size="33.0" font-weight="normal" fill="#868686" stroke="#868686" stroke-width="0.5" textLength="93.6" lengthAdjust="spacingAndGlyphs">NASA</text>
<text x="3749.0" y="2038.6" font-size="33.0" font-weight="normal" fill="#868686" stroke="#868686" stroke-width="0.5" textLength="90.2" lengthAdjust="spacingAndGlyphs">LaRC</text>
<text x="3311.3" y="2076.3" font-size="33.0" font-weight="normal" fill="#868686" stroke="#868686" stroke-width="0.5" textLength="528.8" lengthAdjust="spacingAndGlyphs">Preparer: Kevin R. Leavor (AMA)</text>
<text x="3388.1" y="2113.6" font-size="33.0" font-weight="normal" fill="#868686" stroke="#868686" stroke-width="0.5" textLength="451.4" lengthAdjust="spacingAndGlyphs">Generated 2025-07-17 22:25</text>
<text x="3532.4" y="2150.9" font-size="33.0" font-weight="normal" fill="#868686" stroke="#868686" stroke-width="0.5" textLength="306.1" lengthAdjust="spacingAndGlyphs">Data Version: 6.0.0</text>
<g transform="translate(3440,0)">
<path d="M89.2,17.9 H354.9 A35,35 0 0 1 389.9,52.9 V223.5 A167.8,167.8 0 0 1 54.2,223.5 V52.9 A35,35 0 0 1 89.2,17.9 Z" fill="#e2574c"/>
<path d="M89.6,24.3 H354.5 A29,29 0 0 1 383.5,53.3 V223.5 A161.4,161.4 0 0 1 60.6,223.5 V53.3 A29,29 0 0 1 89.6,24.3 Z" fill="#0b4b83"/>
<text x="88.3" y="59.4" font-family="'Liberation Serif', serif" font-weight="bold" font-size="42.6" fill="#fff" textLength="106" lengthAdjust="spacingAndGlyphs">SAGE</text>
<text x="211.7" y="59.4" font-family="'Liberation Serif', serif" font-weight="bold" font-size="42.6" fill="#fff" textLength="49" lengthAdjust="spacingAndGlyphs">III</text>
<circle cx="275.9" cy="45.6" r="4.5" fill="#fff"/>
<text x="292.8" y="59.4" font-family="'Liberation Serif', serif" font-weight="bold" font-size="42.6" fill="#fff" textLength="60.7" lengthAdjust="spacingAndGlyphs">ISS</text>
<text x="87.6" y="72.0" font-size="8.3" fill="#d2deef" textLength="173.1" lengthAdjust="spacingAndGlyphs">Stratospheric Aerosol and Gas Experiment III</text>
<text x="296.6" y="72.0" font-size="8.3" fill="#d2deef" textLength="53.2" lengthAdjust="spacingAndGlyphs">International</text>
<text x="293.4" y="83.0" font-size="8.3" fill="#d2deef" textLength="59.8" lengthAdjust="spacingAndGlyphs">Space Station</text>
<clipPath id="lgc"><circle cx="222.0" cy="220.0" r="126.2"/></clipPath>
<clipPath id="lge"><circle cx="-265" cy="609" r="626"/></clipPath>
<circle cx="222.0" cy="220.0" r="141" fill="#c7cbd9"/>
<circle cx="222.0" cy="220.0" r="126.2" fill="#0a4a84"/>
<g clip-path="url(#lgc)">
<circle cx="-265" cy="609" r="637" fill="none" stroke="#0e6aa8" stroke-width="11.5"/>
<circle cx="-265" cy="609" r="626" fill="#0b4c88"/>
<g clip-path="url(#lge)">
<polygon points="120.0,100.0 150.0,110.0 175.0,150.0 215.0,195.0 213.8,213.8 220.7,223.5 224.2,235.9 222.8,245.5 224.8,255.2 229.7,264.9 226.2,266.3 222.0,259.3 213.8,260.7 205.5,269.0 202.0,280.0 205.5,293.9 213.8,303.5 220.7,302.0 222.0,289.7 225.5,287.0 227.6,296.6 229.7,302.0 235.9,307.7 245.5,314.6 240.0,316.0 223.6,311.0 212.5,315.0 200.1,313.6 189.1,306.6 179.4,297.0 172.5,290.0 160.0,288.0 120.0,260.0" fill="#5ea46b"/>
<polygon points="245.5,314.6 251.0,309.0 255.2,296.6 264.9,291.0 269.0,291.0 277.3,304.9 300.0,335.0 280.0,360.0 255.2,350.0 255.2,317.3" fill="#5ea46b"/>
<polygon points="126.0,120.0 137.0,127.0 134.0,136.0 122.0,140.0" fill="#5ea46b"/>
<polygon points="181.0,205.0 186.0,203.0 190.0,210.0 196.0,206.0 203.0,204.0 211.0,208.0 212.0,216.0 207.0,226.0 203.0,218.0 199.0,224.0 195.0,216.0 190.0,218.0 186.0,212.0" fill="#0b4c88"/>
<polygon points="176.0,262.0 186.0,268.0 196.0,279.0 192.0,281.0 181.0,271.0" fill="#0b4c88"/>
</g>
<circle cx="-265" cy="609" r="626" fill="none" stroke="#dfe9f5" stroke-width="0.9"/>
<line x1="214.5" y1="158.5" x2="275.2" y2="191.2" stroke="#eef3fa" stroke-width="0.8"/>
<line x1="205.5" y1="167.5" x2="275.2" y2="192.0" stroke="#eef3fa" stroke-width="0.8"/>
<line x1="264.9" y1="200" x2="229.7" y2="226.2" stroke="#eef3fa" stroke-width="1.5"/>
<line x1="267.6" y1="202.8" x2="234.5" y2="233.1" stroke="#eef3fa" stroke-width="1.5"/>
<line x1="276.5" y1="196" x2="282.8" y2="258" stroke="#eef3fa" stroke-width="0.9"/>
<line x1="277.5" y1="196" x2="293.9" y2="256.6" stroke="#eef3fa" stroke-width="0.9"/>
<path d="M162.8,152.5 L190.4,179.4 M163.5,150.5 L196,176" stroke="#7cc0ea" stroke-width="0.8" fill="none"/>
<circle cx="196.7" cy="144.2" r="23.8" fill="#f1f2f6"/>
<circle cx="198.3" cy="142.4" r="21.6" fill="#dcdee6"/>
<ellipse cx="193" cy="135" rx="6.5" ry="4.2" transform="rotate(-30 193 135)" fill="#babdca"/>
<ellipse cx="203" cy="139" rx="5.5" ry="3.6" transform="rotate(40 203 139)" fill="#babdca"/>
<ellipse cx="199" cy="147" rx="6" ry="3.4" transform="rotate(-10 199 147)" fill="#babdca"/>
<ellipse cx="207" cy="149" rx="3.6" ry="4.6" transform="rotate(20 207 149)" fill="#babdca"/>
<ellipse cx="189" cy="143" rx="3.2" ry="2.4" transform="rotate(0 189 143)" fill="#babdca"/>
<ellipse cx="198" cy="131" rx="3" ry="2" transform="rotate(0 198 131)" fill="#babdca"/>
<circle cx="187.5" cy="131" r="1.6" fill="#f1f2f6"/>
<circle cx="295.2" cy="280.7" r="23.2" fill="#c9cbd8"/>
<clipPath id="lgs"><circle cx="295.2" cy="280.7" r="23.2"/></clipPath>
<circle cx="302" cy="275" r="26" fill="#fde1a2" clip-path="url(#lgs)"/>
<polygon points="253.6,107.2 254.6,115.4 262.8,116.4 254.6,117.4 253.6,125.6 252.6,117.4 244.4,116.4 252.6,115.4" fill="#fdf3d2"/>
<circle cx="253.6" cy="116.4" r="2.1" fill="#fbd469"/>
<polygon points="240.0,122.1 240.6,127.1 245.6,127.7 240.6,128.3 240.0,133.3 239.4,128.3 234.4,127.7 239.4,127.1" fill="#fff"/>
<polygon points="263.5,126.9 264.0,130.6 267.7,131.1 264.0,131.6 263.5,135.3 263.0,131.6 259.3,131.1 263.0,130.6" fill="#fff"/>
<g transform="translate(273.9,164.8) rotate(44.5)"><rect x="-5.92" y="-18.25" width="2.1" height="36.5" fill="#c4c6d2"/><rect x="-2.67" y="-18.25" width="2.1" height="36.5" fill="#c4c6d2"/><rect x="0.58" y="-18.25" width="2.1" height="36.5" fill="#c4c6d2"/><rect x="3.83" y="-18.25" width="2.1" height="36.5" fill="#c4c6d2"/></g>
<g transform="translate(302.3,195.3) rotate(44.5)"><rect x="-5.92" y="-18.25" width="2.1" height="36.5" fill="#c4c6d2"/><rect x="-2.67" y="-18.25" width="2.1" height="36.5" fill="#c4c6d2"/><rect x="0.58" y="-18.25" width="2.1" height="36.5" fill="#c4c6d2"/><rect x="3.83" y="-18.25" width="2.1" height="36.5" fill="#c4c6d2"/></g>
<line x1="273.0" y1="161.2" x2="304.0" y2="193.5" stroke="#dfd2bd" stroke-width="1.5"/>
<line x1="281.5" y1="176.5" x2="289.5" y2="168.8" stroke="#d9dbe4" stroke-width="1.3"/>
<line x1="283.5" y1="184.5" x2="294.5" y2="174.2" stroke="#d9dbe4" stroke-width="1.3"/>
<line x1="287.5" y1="188.5" x2="296.5" y2="180.0" stroke="#d9dbe4" stroke-width="1.3"/>
<line x1="277.5" y1="182.5" x2="285.5" y2="175.0" stroke="#d9dbe4" stroke-width="1.3"/>
<line x1="280.5" y1="178.5" x2="288.5" y2="187.0" stroke="#d9dbe4" stroke-width="1.1"/>
<line x1="286.5" y1="172.5" x2="293.5" y2="180.0" stroke="#d9dbe4" stroke-width="1.1"/>
<polygon points="112.0,206.0 168.0,214.0 167.5,340.0 96.0,340.0 90.0,240.0 100.0,214.0" fill="#db4e41"/>
<polygon points="116.9,226.0 120.7,224.0 124.2,336.0 119.8,336.0" fill="#8e1f1a"/>
<polygon points="125.0,226.0 128.4,224.0 132.0,336.0 128.0,336.0" fill="#ea6351"/>
<polygon points="131.8,226.0 136.0,224.0 139.5,336.0 134.5,336.0" fill="#8e1f1a"/>
<polygon points="140.0,226.0 143.4,224.0 147.0,336.0 143.0,336.0" fill="#ea6351"/>
<polygon points="146.4,226.0 150.2,224.0 153.8,336.0 149.2,336.0" fill="#8e1f1a"/>
<polygon points="154.0,226.0 157.4,224.0 161.0,336.0 157.0,336.0" fill="#ea6351"/>
<polygon points="159.6,226.0 162.6,224.0 166.2,336.0 162.8,336.0" fill="#8e1f1a"/>
</g>
<polygon points="101.8,155.0 94.5,162.3 85.2,169.5 78.0,177.8 74.3,198.5 69.7,219.2 62.9,239.9 63.5,244.1 84.2,225.4 94.5,214.0 100.7,203.7 108.0,194.4 112.1,184.0 114.2,167.5" fill="#ea6351"/>
<polygon points="101.8,158.1 95.5,165.4 87.3,171.6 81.1,179.9 78.0,198.5 73.3,219.2 67.1,238.4 83.1,222.3 93.5,210.9 99.7,200.6 105.9,192.3 110.0,183.0 112.1,169.5" fill="#7a1714"/>
<polygon points="81.1,180.9 78.5,198.5 74.0,219.2 68.1,236.8 76.9,228.5 81.1,208.9 84.2,188.2" fill="#db4e41"/>
<polygon points="101.8,155.6 108.0,150.9 116.3,148.3 124.5,150.9 132.8,157.1 140.1,167.5 159.7,166.4 168.0,173.7 169.0,188.2 167.0,203.7 165.9,217.2 112.1,212.0 111.1,196.4 112.1,184.0 108.0,169.5" fill="#db4e41"/>
<polygon points="103.8,156.1 112.1,150.9 122.5,151.4 131.8,158.1 138.0,167.5 137.0,175.7 128.7,169.5 118.3,166.4 110.0,167.5" fill="#b7332b"/>
<polygon points="113.1,180.9 122.5,177.8 132.8,180.9 139.0,188.2 137.0,194.4 126.6,191.3 116.3,191.3" fill="#a62a23"/>
<polygon points="141.1,191.3 153.5,194.4 163.9,192.3 164.9,202.7 153.5,206.8 141.1,202.7" fill="#ea6351"/>
<polygon points="118.3,196.4 128.7,194.4 138.0,198.5 139.0,206.8 128.7,207.8 119.4,204.7" fill="#ea6351"/>
<polygon points="159.7,166.4 170.1,169.5 177.8,172.1 175.8,182.0 172.2,191.3 164.9,191.3 162.3,179.9" fill="#7a2418"/>
<polygon points="169.0,171.1 176.8,173.2 174.7,180.9 169.0,178.9" fill="#c98b4a"/>
<polygon points="168.0,178.9 175.8,177.8 176.3,186.1 173.2,191.8 168.0,190.2" fill="#e3aa72"/>
<path d="M113,208.5 Q132,217 150,219.5" stroke="#6e2413" stroke-width="4.6" fill="none"/>
<path d="M113,206.6 Q132,215 150,217.5" stroke="#c98b3d" stroke-width="1.0" fill="none"/>
<polygon points="162.8,222.3 158.4,229.9 149.6,229.9 145.2,222.3 149.6,214.7 158.4,214.7" fill="#c98b3d"/>
<polygon points="160.4,222.3 157.2,227.8 150.8,227.8 147.6,222.3 150.8,216.8 157.2,216.8" fill="#7a1d14"/>
<text x="154" y="226.3" font-family="'Liberation Serif', serif" font-style="italic" font-weight="bold" font-size="11" text-anchor="middle" fill="#c98b3d">S</text>
<polygon points="139.0,134.3 145.2,130.2 153.5,128.6 161.8,130.2 166.5,136.4 167.0,140.5 159.7,136.4 149.4,136.4 143.2,140.5 142.1,148.8 147.3,156.1 158.7,155.6 160.2,167.5 158.7,176.8 155.6,184.0 150.4,190.8 146.3,189.2 141.1,184.0 138.0,173.7 134.9,165.4 128.7,159.2 126.6,153.0 121.4,148.8 122.5,143.7 132.8,138.5" fill="#fdfdfd"/>
<polygon points="149.4,134.9 154.6,133.1 162.8,136.4 165.9,142.6 164.9,148.8 161.3,153.5 158.7,156.1 153.5,155.6 147.8,155.6 143.7,150.9 142.1,144.7 143.7,139.0" fill="#dca872"/>
<polygon points="143.7,140.5 149.4,136.4 153.5,138.5 149.4,144.7 146.3,153.0 143.7,149.9" fill="#c98a4a"/>
<polygon points="139.0,139.5 145.2,138.5 146.8,144.7 143.2,148.8 140.1,145.7" fill="#fdfdfd"/>
<polygon points="152.5,144.5 160.8,145.9 161.3,147.8 153.5,146.8" fill="#5b2f17"/>
<polygon points="146.3,155.6 157.7,154.2 159.7,157.1 159.2,161.3 153.5,162.8 147.3,161.3" fill="#fdfdfd"/>
<path d="M94.3,122 L102.8,173.7 L108,220.7 L112.1,253.8 L120.4,267.3 L122.6,294" stroke="#a85f1e" stroke-width="4.8" fill="none" stroke-linejoin="round"/>
<path d="M95.9,122 L104.4,173.7 L109.5,220.7 L113.6,253.0 L121.8,266.6 L123.8,292" stroke="#dc9d57" stroke-width="1.3" fill="none" stroke-linejoin="round"/>
<circle cx="92.4" cy="113.6" r="10.9" fill="#f3f4f8"/>
<circle cx="93.3" cy="112.7" r="9.3" fill="#c6c9d6"/>
<polygon points="89.3,177.8 96.6,173.7 105.9,174.7 109.0,182.0 108.0,190.2 101.8,194.9 94.5,191.3 90.4,185.1" fill="#e3aa72"/>
<polygon points="98.7,177.8 103.8,177.8 104.9,180.9 99.7,180.9" fill="#a85f1e"/>
<path id="lgt" d="M 64.6,220 A 157.4,157.4 0 0 0 379.4,220" fill="none"/>
<text font-size="15.2" font-weight="bold" fill="#fff" letter-spacing="0.45"><textPath href="#lgt" startOffset="35">BALL • NASA LANGLEY RESEARCH CENTER • TAS-I • ESA</textPath></text>
</g>
</svg>
</body></html>
